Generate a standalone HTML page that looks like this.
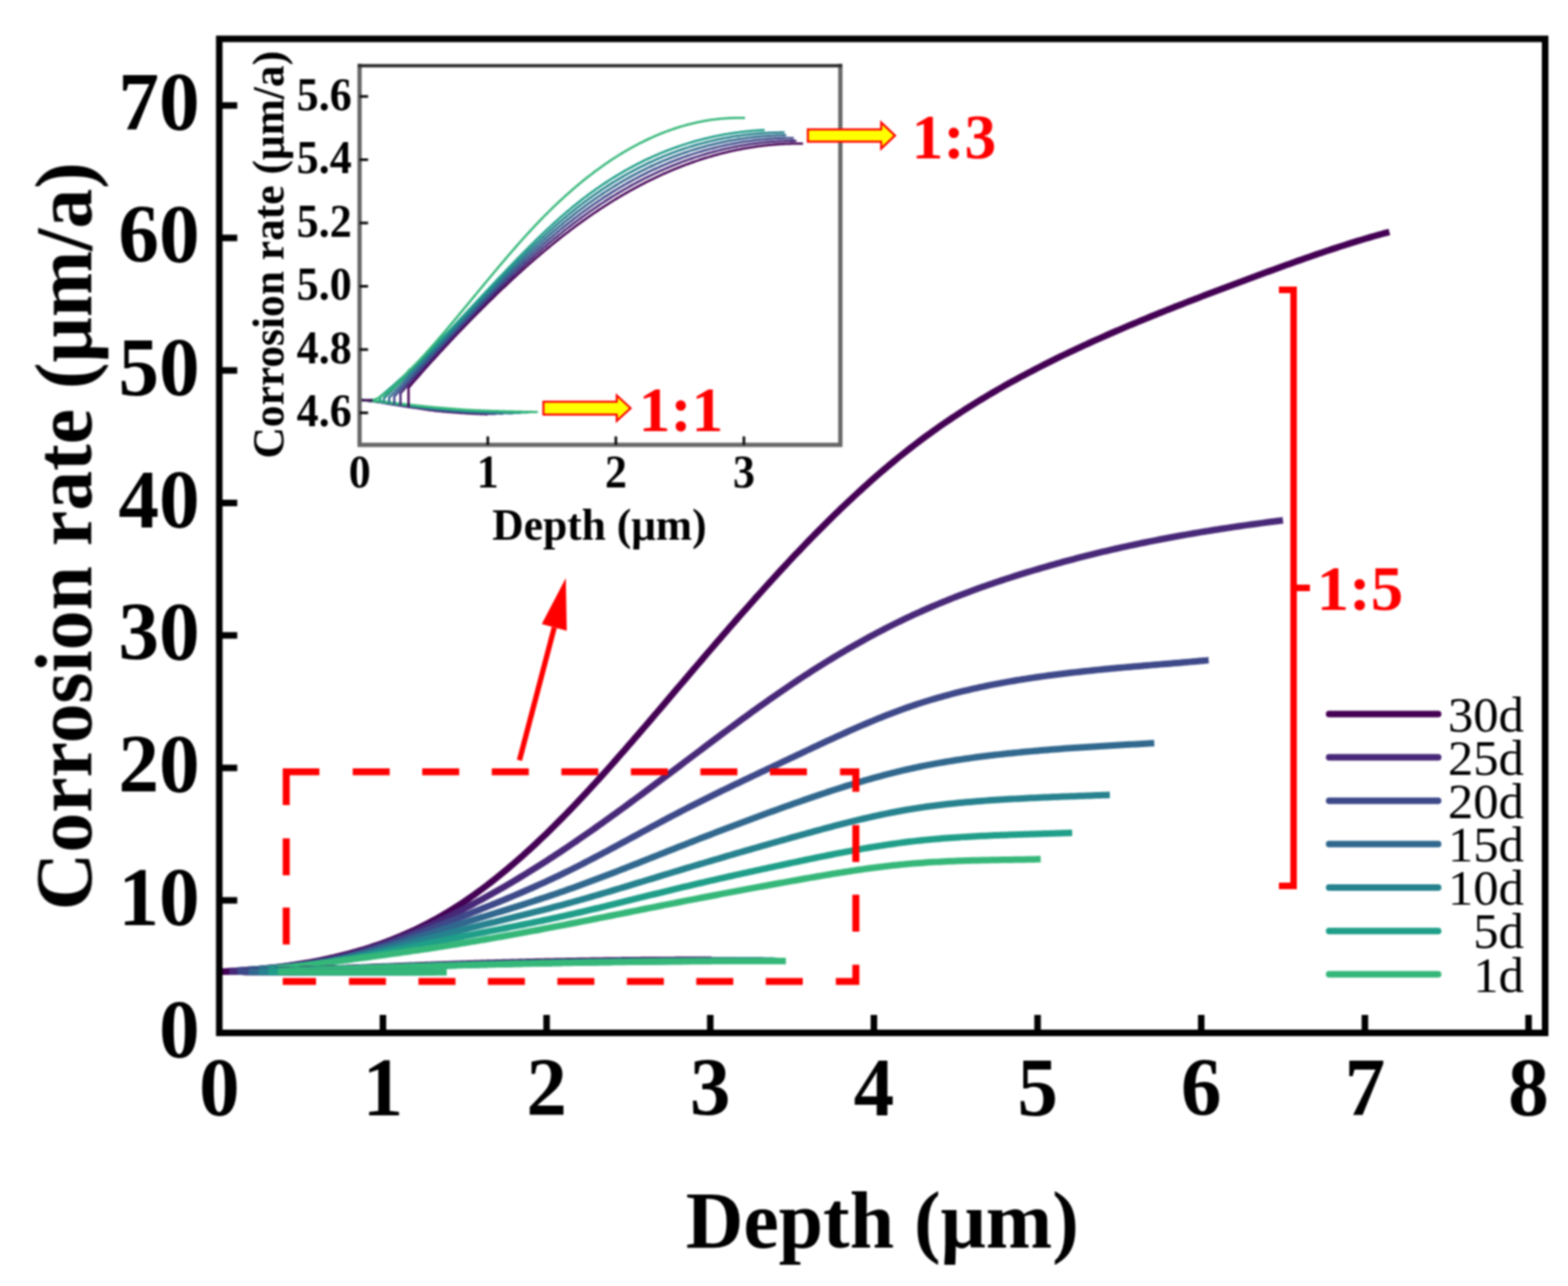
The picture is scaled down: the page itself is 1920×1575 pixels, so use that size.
<!DOCTYPE html>
<html lang="en"><head><meta charset="utf-8"><title>Corrosion rate vs depth</title>
<style>html,body{margin:0;padding:0;background:#fff}body{width:1920px;height:1575px;overflow:hidden}svg{display:block}text{font-family:'Liberation Serif', serif}.b{font-weight:bold}.tk{font-size:102px;font-weight:bold;fill:#000}.al{font-size:100px;font-weight:bold;fill:#000}.lg{font-size:62px;fill:#000}.itk{font-size:57px;font-weight:bold;fill:#000}.ial{font-size:54.5px;font-weight:bold;fill:#000}.rt{font-size:79px;font-weight:bold;fill:#f00}</style></head><body>
<svg width="1920" height="1575" viewBox="0 0 1920 1575">
<defs><filter id="soft" filterUnits="userSpaceOnUse" x="0" y="0" width="1920" height="1575" color-interpolation-filters="sRGB"><feGaussianBlur stdDeviation="0.8"/></filter><filter id="soft2" filterUnits="userSpaceOnUse" x="0" y="0" width="1920" height="1575" color-interpolation-filters="sRGB"><feGaussianBlur stdDeviation="0.7"/></filter></defs>
<rect x="0" y="0" width="1920" height="1575" fill="#ffffff"/>
<g filter="url(#soft)">
<g fill="none" stroke-width="8" stroke-linecap="butt" stroke-linejoin="round">
<polyline stroke="#440154" points="268.50,1190.20 272.51,1190.01 276.52,1189.81 280.52,1189.60 284.53,1189.37 288.54,1189.13 292.55,1188.87 296.56,1188.60 300.56,1188.31 304.57,1188.00 308.58,1187.68 312.59,1187.33 316.60,1186.97 320.60,1186.60 324.61,1186.20 328.62,1185.78 332.63,1185.34 336.64,1184.88 340.64,1184.41 344.65,1183.90 348.66,1183.38 352.67,1182.84 356.68,1182.27 360.68,1181.68 364.69,1181.06 368.70,1180.42 372.71,1179.76 376.72,1179.07 380.72,1178.35 384.73,1177.61 388.74,1176.84 392.75,1176.05 396.76,1175.23 400.76,1174.38 404.77,1173.50 408.78,1172.59 412.79,1171.65 416.80,1170.68 420.80,1169.68 424.81,1168.65 428.82,1167.58 432.83,1166.48 436.84,1165.35 440.84,1164.19 444.85,1162.98 448.86,1161.74 452.87,1160.47 456.88,1159.15 460.88,1157.80 464.89,1156.41 468.90,1154.97 472.91,1153.50 476.92,1151.98 480.92,1150.42 484.93,1148.82 488.94,1147.18 492.95,1145.48 496.96,1143.75 500.96,1141.96 504.97,1140.13 508.98,1138.26 512.99,1136.33 517.00,1134.35 521.00,1132.32 525.01,1130.25 529.02,1128.12 533.03,1125.93 537.04,1123.70 541.04,1121.41 545.05,1119.06 549.06,1116.66 553.07,1114.20 557.08,1111.69 561.08,1109.12 565.09,1106.50 569.10,1103.82 573.11,1101.09 577.12,1098.30 581.12,1095.47 585.13,1092.58 589.14,1089.63 593.15,1086.64 597.16,1083.60 601.16,1080.51 605.17,1077.36 609.18,1074.17 613.19,1070.93 617.20,1067.64 621.20,1064.31 625.21,1060.92 629.22,1057.50 633.23,1054.02 637.24,1050.50 641.24,1046.94 645.25,1043.33 649.26,1039.68 653.27,1035.98 657.28,1032.24 661.28,1028.46 665.29,1024.64 669.30,1020.78 673.31,1016.87 677.32,1012.93 681.32,1008.95 685.33,1004.92 689.34,1000.86 693.35,996.77 697.36,992.63 701.36,988.46 705.37,984.26 709.38,980.02 713.39,975.75 717.40,971.45 721.40,967.12 725.41,962.76 729.42,958.37 733.43,953.95 737.44,949.51 741.44,945.05 745.45,940.56 749.46,936.05 753.47,931.52 757.48,926.97 761.48,922.40 765.49,917.82 769.50,913.22 773.51,908.60 777.52,903.96 781.52,899.32 785.53,894.66 789.54,889.99 793.55,885.32 797.56,880.63 801.56,875.94 805.57,871.23 809.58,866.53 813.59,861.82 817.60,857.11 821.60,852.39 825.61,847.68 829.62,842.96 833.63,838.25 837.64,833.54 841.64,828.83 845.65,824.13 849.66,819.43 853.67,814.73 857.68,810.04 861.68,805.36 865.69,800.68 869.70,796.01 873.71,791.35 877.72,786.70 881.72,782.05 885.73,777.42 889.74,772.80 893.75,768.19 897.76,763.59 901.76,759.00 905.77,754.43 909.78,749.87 913.79,745.32 917.80,740.79 921.80,736.28 925.81,731.78 929.82,727.30 933.83,722.84 937.84,718.40 941.84,713.98 945.85,709.57 949.86,705.19 953.87,700.83 957.88,696.49 961.88,692.17 965.89,687.87 969.90,683.60 973.91,679.36 977.92,675.14 981.92,670.94 985.93,666.77 989.94,662.63 993.95,658.51 997.96,654.42 1001.96,650.35 1005.97,646.32 1009.98,642.31 1013.99,638.33 1018.00,634.38 1022.00,630.45 1026.01,626.56 1030.02,622.70 1034.03,618.87 1038.04,615.07 1042.04,611.30 1046.05,607.56 1050.06,603.85 1054.07,600.18 1058.08,596.54 1062.08,592.93 1066.09,589.36 1070.10,585.82 1074.11,582.31 1078.12,578.84 1082.12,575.40 1086.13,572.00 1090.14,568.64 1094.15,565.31 1098.16,562.02 1102.16,558.77 1106.17,555.55 1110.18,552.37 1114.19,549.23 1118.20,546.13 1122.20,543.06 1126.21,540.03 1130.22,537.04 1134.23,534.08 1138.24,531.16 1142.24,528.28 1146.25,525.42 1150.26,522.60 1154.27,519.81 1158.28,517.06 1162.28,514.33 1166.29,511.64 1170.30,508.98 1174.31,506.35 1178.32,503.75 1182.32,501.17 1186.33,498.63 1190.34,496.11 1194.35,493.62 1198.36,491.16 1202.36,488.72 1206.37,486.31 1210.38,483.92 1214.39,481.56 1218.40,479.22 1222.40,476.91 1226.41,474.61 1230.42,472.34 1234.43,470.10 1238.44,467.87 1242.44,465.66 1246.45,463.48 1250.46,461.31 1254.47,459.16 1258.48,457.03 1262.48,454.92 1266.49,452.83 1270.50,450.76 1274.51,448.70 1278.52,446.66 1282.52,444.63 1286.53,442.63 1290.54,440.64 1294.55,438.66 1298.56,436.70 1302.56,434.76 1306.57,432.83 1310.58,430.92 1314.59,429.02 1318.60,427.14 1322.60,425.27 1326.61,423.41 1330.62,421.57 1334.63,419.74 1338.64,417.92 1342.64,416.12 1346.65,414.32 1350.66,412.54 1354.67,410.77 1358.68,409.02 1362.68,407.27 1366.69,405.53 1370.70,403.81 1374.71,402.09 1378.72,400.39 1382.72,398.69 1386.73,397.01 1390.74,395.33 1394.75,393.66 1398.76,392.00 1402.76,390.35 1406.77,388.71 1410.78,387.07 1414.79,385.45 1418.80,383.83 1422.80,382.21 1426.81,380.61 1430.82,379.01 1434.83,377.42 1438.84,375.83 1442.84,374.25 1446.85,372.68 1450.86,371.12 1454.87,369.56 1458.88,368.00 1462.88,366.45 1466.89,364.91 1470.90,363.37 1474.91,361.83 1478.92,360.30 1482.92,358.78 1486.93,357.26 1490.94,355.74 1494.95,354.23 1498.96,352.72 1502.96,351.21 1506.97,349.71 1510.98,348.21 1514.99,346.71 1519.00,345.22 1523.00,343.73 1527.01,342.24 1531.02,340.75 1535.03,339.27 1539.04,337.78 1543.04,336.30 1547.05,334.83 1551.06,333.35 1555.07,331.88 1559.08,330.42 1563.08,328.95 1567.09,327.50 1571.10,326.05 1575.11,324.60 1579.12,323.16 1583.12,321.73 1587.13,320.30 1591.14,318.88 1595.15,317.47 1599.16,316.06 1603.16,314.67 1607.17,313.28 1611.18,311.90 1615.19,310.53 1619.20,309.17 1623.20,307.82 1627.21,306.48 1631.22,305.15 1635.23,303.83 1639.24,302.52 1643.24,301.23 1647.25,299.94 1651.26,298.67 1655.27,297.42 1659.28,296.17 1663.28,294.94 1667.29,293.72 1671.30,292.52 1675.31,291.33 1679.32,290.16 1683.32,289.00 1687.33,287.86 1691.34,286.74 1695.35,285.63 1699.36,284.54 1701.30,284.01"/>
<polyline stroke="#482878" points="280.52,1189.44 284.53,1189.18 288.54,1188.92 292.55,1188.65 296.56,1188.38 300.56,1188.10 304.57,1187.81 308.58,1187.51 312.59,1187.20 316.60,1186.88 320.60,1186.55 324.61,1186.20 328.62,1185.84 332.63,1185.46 336.64,1185.07 340.64,1184.66 344.65,1184.23 348.66,1183.78 352.67,1183.30 356.68,1182.81 360.68,1182.29 364.69,1181.75 368.70,1181.18 372.71,1180.59 376.72,1179.97 380.72,1179.32 384.73,1178.64 388.74,1177.93 392.75,1177.19 396.76,1176.41 400.76,1175.60 404.77,1174.76 408.78,1173.88 412.79,1172.96 416.80,1172.01 420.80,1171.02 424.81,1169.99 428.82,1168.93 432.83,1167.84 436.84,1166.71 440.84,1165.54 444.85,1164.34 448.86,1163.11 452.87,1161.84 456.88,1160.55 460.88,1159.22 464.89,1157.85 468.90,1156.46 472.91,1155.03 476.92,1153.58 480.92,1152.09 484.93,1150.58 488.94,1149.03 492.95,1147.46 496.96,1145.85 500.96,1144.22 504.97,1142.56 508.98,1140.87 512.99,1139.16 517.00,1137.42 521.00,1135.65 525.01,1133.86 529.02,1132.04 533.03,1130.19 537.04,1128.33 541.04,1126.43 545.05,1124.52 549.06,1122.57 553.07,1120.61 557.08,1118.62 561.08,1116.62 565.09,1114.58 569.10,1112.53 573.11,1110.45 577.12,1108.35 581.12,1106.23 585.13,1104.09 589.14,1101.92 593.15,1099.74 597.16,1097.53 601.16,1095.30 605.17,1093.05 609.18,1090.77 613.19,1088.48 617.20,1086.17 621.20,1083.83 625.21,1081.48 629.22,1079.10 633.23,1076.71 637.24,1074.29 641.24,1071.86 645.25,1069.40 649.26,1066.93 653.27,1064.44 657.28,1061.92 661.28,1059.39 665.29,1056.84 669.30,1054.27 673.31,1051.68 677.32,1049.07 681.32,1046.45 685.33,1043.80 689.34,1041.14 693.35,1038.46 697.36,1035.77 701.36,1033.05 705.37,1030.32 709.38,1027.57 713.39,1024.81 717.40,1022.03 721.40,1019.24 725.41,1016.43 729.42,1013.61 733.43,1010.78 737.44,1007.93 741.44,1005.07 745.45,1002.20 749.46,999.32 753.47,996.42 757.48,993.52 761.48,990.61 765.49,987.68 769.50,984.75 773.51,981.81 777.52,978.86 781.52,975.90 785.53,972.93 789.54,969.96 793.55,966.98 797.56,964.00 801.56,961.00 805.57,958.01 809.58,955.01 813.59,952.00 817.60,949.00 821.60,945.99 825.61,942.97 829.62,939.96 833.63,936.94 837.64,933.92 841.64,930.90 845.65,927.88 849.66,924.86 853.67,921.84 857.68,918.83 861.68,915.81 865.69,912.80 869.70,909.80 873.71,906.80 877.72,903.80 881.72,900.81 885.73,897.82 889.74,894.85 893.75,891.88 897.76,888.92 901.76,885.96 905.77,883.02 909.78,880.09 913.79,877.17 917.80,874.26 921.80,871.36 925.81,868.48 929.82,865.60 933.83,862.75 937.84,859.90 941.84,857.08 945.85,854.27 949.86,851.47 953.87,848.69 957.88,845.93 961.88,843.19 965.89,840.47 969.90,837.77 973.91,835.09 977.92,832.42 981.92,829.78 985.93,827.16 989.94,824.56 993.95,821.99 997.96,819.43 1001.96,816.89 1005.97,814.38 1009.98,811.89 1013.99,809.42 1018.00,806.97 1022.00,804.54 1026.01,802.14 1030.02,799.75 1034.03,797.39 1038.04,795.05 1042.04,792.74 1046.05,790.45 1050.06,788.18 1054.07,785.93 1058.08,783.70 1062.08,781.50 1066.09,779.33 1070.10,777.17 1074.11,775.04 1078.12,772.94 1082.12,770.85 1086.13,768.79 1090.14,766.76 1094.15,764.75 1098.16,762.76 1102.16,760.80 1106.17,758.86 1110.18,756.95 1114.19,755.06 1118.20,753.20 1122.20,751.36 1126.21,749.54 1130.22,747.75 1134.23,745.98 1138.24,744.24 1142.24,742.51 1146.25,740.81 1150.26,739.13 1154.27,737.47 1158.28,735.84 1162.28,734.22 1166.29,732.62 1170.30,731.04 1174.31,729.49 1178.32,727.95 1182.32,726.43 1186.33,724.93 1190.34,723.45 1194.35,721.98 1198.36,720.53 1202.36,719.10 1206.37,717.69 1210.38,716.29 1214.39,714.91 1218.40,713.55 1222.40,712.20 1226.41,710.86 1230.42,709.54 1234.43,708.23 1238.44,706.94 1242.44,705.66 1246.45,704.40 1250.46,703.14 1254.47,701.90 1258.48,700.68 1262.48,699.46 1266.49,698.26 1270.50,697.07 1274.51,695.89 1278.52,694.72 1282.52,693.57 1286.53,692.43 1290.54,691.30 1294.55,690.18 1298.56,689.07 1302.56,687.97 1306.57,686.89 1310.58,685.82 1314.59,684.76 1318.60,683.71 1322.60,682.67 1326.61,681.65 1330.62,680.63 1334.63,679.63 1338.64,678.64 1342.64,677.65 1346.65,676.68 1350.66,675.72 1354.67,674.78 1358.68,673.84 1362.68,672.91 1366.69,672.00 1370.70,671.09 1374.71,670.19 1378.72,669.31 1382.72,668.44 1386.73,667.57 1390.74,666.72 1394.75,665.88 1398.76,665.04 1402.76,664.22 1406.77,663.41 1410.78,662.60 1414.79,661.81 1418.80,661.03 1422.80,660.25 1426.81,659.49 1430.82,658.73 1434.83,657.98 1438.84,657.25 1442.84,656.52 1446.85,655.80 1450.86,655.09 1454.87,654.38 1458.88,653.69 1462.88,653.00 1466.89,652.33 1470.90,651.66 1474.91,651.00 1478.92,650.34 1482.92,649.70 1486.93,649.06 1490.94,648.43 1494.95,647.81 1498.96,647.20 1502.96,646.59 1506.97,645.99 1510.98,645.40 1514.99,644.81 1519.00,644.23 1523.00,643.66 1527.01,643.09 1531.02,642.54 1535.03,641.98 1539.04,641.44 1543.04,640.90 1547.05,640.36 1551.06,639.84 1555.07,639.32 1559.08,638.80 1563.08,638.29 1567.09,637.79 1571.00,637.30"/>
<polyline stroke="#3e4989" points="290.54,1188.67 294.55,1188.40 298.56,1188.13 302.57,1187.87 306.58,1187.59 310.58,1187.32 314.59,1187.03 318.60,1186.74 322.61,1186.44 326.62,1186.14 330.62,1185.82 334.63,1185.48 338.64,1185.14 342.65,1184.77 346.66,1184.39 350.66,1183.99 354.67,1183.58 358.68,1183.14 362.69,1182.67 366.70,1182.19 370.70,1181.68 374.71,1181.14 378.72,1180.57 382.73,1179.97 386.74,1179.34 390.74,1178.68 394.75,1177.99 398.76,1177.26 402.77,1176.49 406.78,1175.68 410.78,1174.84 414.79,1173.95 418.80,1173.03 422.81,1172.07 426.82,1171.07 430.82,1170.04 434.83,1168.97 438.84,1167.87 442.85,1166.74 446.86,1165.58 450.86,1164.39 454.87,1163.17 458.88,1161.92 462.89,1160.65 466.90,1159.35 470.90,1158.03 474.91,1156.68 478.92,1155.32 482.93,1153.93 486.94,1152.52 490.94,1151.10 494.95,1149.66 498.96,1148.20 502.97,1146.73 506.98,1145.24 510.98,1143.74 514.99,1142.23 519.00,1140.71 523.01,1139.18 527.02,1137.65 531.02,1136.10 535.03,1134.56 539.04,1133.00 543.05,1131.44 547.06,1129.88 551.06,1128.32 555.07,1126.76 559.08,1125.20 563.09,1123.64 567.10,1122.07 571.10,1120.50 575.11,1118.92 579.12,1117.34 583.13,1115.76 587.14,1114.17 591.14,1112.57 595.15,1110.97 599.16,1109.36 603.17,1107.74 607.18,1106.12 611.18,1104.48 615.19,1102.84 619.20,1101.18 623.21,1099.52 627.22,1097.84 631.22,1096.15 635.23,1094.45 639.24,1092.73 643.25,1091.00 647.26,1089.26 651.26,1087.50 655.27,1085.72 659.28,1083.93 663.29,1082.12 667.30,1080.30 671.30,1078.45 675.31,1076.59 679.32,1074.71 683.33,1072.81 687.34,1070.89 691.34,1068.95 695.35,1066.98 699.36,1065.00 703.37,1063.00 707.38,1060.98 711.38,1058.94 715.39,1056.89 719.40,1054.82 723.41,1052.74 727.42,1050.65 731.42,1048.54 735.43,1046.42 739.44,1044.29 743.45,1042.16 747.46,1040.01 751.46,1037.86 755.47,1035.70 759.48,1033.54 763.49,1031.37 767.50,1029.20 771.50,1027.03 775.51,1024.86 779.52,1022.68 783.53,1020.51 787.54,1018.34 791.54,1016.17 795.55,1014.01 799.56,1011.85 803.57,1009.69 807.58,1007.54 811.58,1005.40 815.59,1003.27 819.60,1001.15 823.61,999.04 827.62,996.94 831.62,994.85 835.63,992.77 839.64,990.71 843.65,988.66 847.66,986.62 851.66,984.59 855.67,982.58 859.68,980.57 863.69,978.57 867.70,976.58 871.70,974.60 875.71,972.63 879.72,970.67 883.73,968.72 887.74,966.77 891.74,964.83 895.75,962.89 899.76,960.97 903.77,959.04 907.78,957.13 911.78,955.21 915.79,953.31 919.80,951.40 923.81,949.50 927.82,947.60 931.82,945.71 935.83,943.82 939.84,941.93 943.85,940.04 947.86,938.15 951.86,936.26 955.87,934.37 959.88,932.49 963.89,930.60 967.90,928.71 971.90,926.82 975.91,924.92 979.92,923.03 983.93,921.14 987.94,919.25 991.94,917.36 995.95,915.47 999.96,913.59 1003.97,911.72 1007.98,909.85 1011.98,907.98 1015.99,906.13 1020.00,904.28 1024.01,902.44 1028.02,900.61 1032.02,898.79 1036.03,896.99 1040.04,895.19 1044.05,893.41 1048.06,891.65 1052.06,889.90 1056.07,888.17 1060.08,886.45 1064.09,884.76 1068.10,883.08 1072.10,881.42 1076.11,879.78 1080.12,878.17 1084.13,876.57 1088.14,875.00 1092.14,873.46 1096.15,871.94 1100.16,870.44 1104.17,868.97 1108.18,867.54 1112.18,866.12 1116.19,864.74 1120.20,863.39 1124.21,862.06 1128.22,860.77 1132.22,859.50 1136.23,858.25 1140.24,857.04 1144.25,855.84 1148.26,854.68 1152.26,853.54 1156.27,852.42 1160.28,851.33 1164.29,850.26 1168.30,849.22 1172.30,848.20 1176.31,847.20 1180.32,846.23 1184.33,845.27 1188.34,844.34 1192.34,843.43 1196.35,842.54 1200.36,841.67 1204.37,840.82 1208.38,839.98 1212.38,839.17 1216.39,838.38 1220.40,837.60 1224.41,836.84 1228.42,836.10 1232.42,835.37 1236.43,834.67 1240.44,833.97 1244.45,833.30 1248.46,832.63 1252.46,831.99 1256.47,831.35 1260.48,830.74 1264.49,830.13 1268.50,829.54 1272.50,828.96 1276.51,828.39 1280.52,827.84 1284.53,827.30 1288.54,826.77 1292.54,826.25 1296.55,825.74 1300.56,825.24 1304.57,824.75 1308.58,824.28 1312.58,823.81 1316.59,823.35 1320.60,822.90 1324.61,822.46 1328.62,822.03 1332.62,821.61 1336.63,821.19 1340.64,820.78 1344.65,820.38 1348.66,819.98 1352.66,819.59 1356.67,819.21 1360.68,818.83 1364.69,818.46 1368.70,818.10 1372.70,817.73 1376.71,817.38 1380.72,817.02 1384.73,816.67 1388.74,816.32 1392.74,815.98 1396.75,815.64 1400.76,815.30 1404.77,814.96 1408.78,814.63 1412.78,814.30 1416.79,813.96 1420.80,813.63 1424.81,813.30 1428.82,812.97 1432.82,812.64 1436.83,812.31 1440.84,811.97 1444.85,811.64 1448.86,811.30 1452.86,810.96 1456.87,810.62 1460.88,810.28 1464.89,809.93 1468.90,809.58 1472.90,809.23 1476.91,808.88 1480.00,808.60"/>
<polyline stroke="#31688e" points="304.57,1187.97 308.58,1187.70 312.59,1187.44 316.60,1187.16 320.60,1186.87 324.61,1186.58 328.62,1186.27 332.63,1185.95 336.64,1185.62 340.64,1185.28 344.65,1184.91 348.66,1184.54 352.67,1184.14 356.68,1183.72 360.68,1183.29 364.69,1182.83 368.70,1182.35 372.71,1181.85 376.72,1181.33 380.72,1180.77 384.73,1180.20 388.74,1179.59 392.75,1178.95 396.76,1178.29 400.76,1177.59 404.77,1176.86 408.78,1176.10 412.79,1175.30 416.80,1174.47 420.80,1173.61 424.81,1172.72 428.82,1171.80 432.83,1170.85 436.84,1169.87 440.84,1168.86 444.85,1167.83 448.86,1166.78 452.87,1165.70 456.88,1164.61 460.88,1163.49 464.89,1162.35 468.90,1161.20 472.91,1160.02 476.92,1158.83 480.92,1157.63 484.93,1156.42 488.94,1155.19 492.95,1153.95 496.96,1152.70 500.96,1151.44 504.97,1150.18 508.98,1148.91 512.99,1147.63 517.00,1146.35 521.00,1145.07 525.01,1143.78 529.02,1142.50 533.03,1141.22 537.04,1139.93 541.04,1138.66 545.05,1137.38 549.06,1136.11 553.07,1134.85 557.08,1133.59 561.08,1132.34 565.09,1131.09 569.10,1129.85 573.11,1128.61 577.12,1127.38 581.12,1126.15 585.13,1124.92 589.14,1123.69 593.15,1122.46 597.16,1121.23 601.16,1120.00 605.17,1118.77 609.18,1117.54 613.19,1116.31 617.20,1115.07 621.20,1113.83 625.21,1112.59 629.22,1111.34 633.23,1110.08 637.24,1108.82 641.24,1107.56 645.25,1106.29 649.26,1105.01 653.27,1103.72 657.28,1102.42 661.28,1101.12 665.29,1099.80 669.30,1098.48 673.31,1097.14 677.32,1095.79 681.32,1094.43 685.33,1093.06 689.34,1091.67 693.35,1090.27 697.36,1088.85 701.36,1087.43 705.37,1085.99 709.38,1084.54 713.39,1083.07 717.40,1081.60 721.40,1080.11 725.41,1078.62 729.42,1077.11 733.43,1075.60 737.44,1074.08 741.44,1072.55 745.45,1071.01 749.46,1069.47 753.47,1067.92 757.48,1066.36 761.48,1064.79 765.49,1063.23 769.50,1061.65 773.51,1060.08 777.52,1058.50 781.52,1056.91 785.53,1055.32 789.54,1053.74 793.55,1052.14 797.56,1050.55 801.56,1048.96 805.57,1047.37 809.58,1045.77 813.59,1044.18 817.60,1042.59 821.60,1041.00 825.61,1039.41 829.62,1037.83 833.63,1036.25 837.64,1034.67 841.64,1033.10 845.65,1031.53 849.66,1029.96 853.67,1028.39 857.68,1026.83 861.68,1025.28 865.69,1023.72 869.70,1022.17 873.71,1020.63 877.72,1019.09 881.72,1017.55 885.73,1016.02 889.74,1014.49 893.75,1012.97 897.76,1011.45 901.76,1009.94 905.77,1008.43 909.78,1006.92 913.79,1005.42 917.80,1003.93 921.80,1002.44 925.81,1000.96 929.82,999.48 933.83,998.00 937.84,996.54 941.84,995.07 945.85,993.62 949.86,992.17 953.87,990.72 957.88,989.28 961.88,987.85 965.89,986.42 969.90,985.00 973.91,983.59 977.92,982.18 981.92,980.78 985.93,979.39 989.94,978.00 993.95,976.62 997.96,975.26 1001.96,973.90 1005.97,972.55 1009.98,971.21 1013.99,969.89 1018.00,968.57 1022.00,967.27 1026.01,965.98 1030.02,964.70 1034.03,963.44 1038.04,962.18 1042.04,960.95 1046.05,959.72 1050.06,958.52 1054.07,957.32 1058.08,956.15 1062.08,954.99 1066.09,953.84 1070.10,952.72 1074.11,951.61 1078.12,950.52 1082.12,949.45 1086.13,948.40 1090.14,947.37 1094.15,946.35 1098.16,945.36 1102.16,944.39 1106.17,943.44 1110.18,942.51 1114.19,941.61 1118.20,940.73 1122.20,939.86 1126.21,939.02 1130.22,938.20 1134.23,937.40 1138.24,936.63 1142.24,935.87 1146.25,935.12 1150.26,934.40 1154.27,933.70 1158.28,933.01 1162.28,932.34 1166.29,931.69 1170.30,931.06 1174.31,930.44 1178.32,929.84 1182.32,929.25 1186.33,928.68 1190.34,928.12 1194.35,927.58 1198.36,927.05 1202.36,926.53 1206.37,926.03 1210.38,925.54 1214.39,925.06 1218.40,924.59 1222.40,924.14 1226.41,923.69 1230.42,923.26 1234.43,922.83 1238.44,922.42 1242.44,922.01 1246.45,921.62 1250.46,921.23 1254.47,920.85 1258.48,920.48 1262.48,920.12 1266.49,919.76 1270.50,919.41 1274.51,919.07 1278.52,918.74 1282.52,918.41 1286.53,918.09 1290.54,917.77 1294.55,917.46 1298.56,917.16 1302.56,916.86 1306.57,916.57 1310.58,916.28 1314.59,916.00 1318.60,915.73 1322.60,915.46 1326.61,915.19 1330.62,914.93 1334.63,914.67 1338.64,914.42 1342.64,914.17 1346.65,913.92 1350.66,913.68 1354.67,913.44 1358.68,913.21 1362.68,912.97 1366.69,912.74 1370.70,912.52 1374.71,912.29 1378.72,912.07 1382.72,911.85 1386.73,911.63 1390.74,911.41 1394.75,911.19 1398.76,910.98 1402.76,910.76 1406.77,910.55 1410.78,910.34 1413.40,910.20"/>
<polyline stroke="#26828e" points="316.60,1187.49 320.60,1187.21 324.61,1186.91 328.62,1186.60 332.63,1186.27 336.64,1185.93 340.64,1185.58 344.65,1185.21 348.66,1184.82 352.67,1184.42 356.68,1184.01 360.68,1183.57 364.69,1183.12 368.70,1182.65 372.71,1182.15 376.72,1181.64 380.72,1181.11 384.73,1180.56 388.74,1179.98 392.75,1179.39 396.76,1178.77 400.76,1178.12 404.77,1177.46 408.78,1176.76 412.79,1176.05 416.80,1175.30 420.80,1174.54 424.81,1173.75 428.82,1172.94 432.83,1172.11 436.84,1171.26 440.84,1170.39 444.85,1169.51 448.86,1168.60 452.87,1167.68 456.88,1166.75 460.88,1165.80 464.89,1164.84 468.90,1163.86 472.91,1162.88 476.92,1161.88 480.92,1160.87 484.93,1159.86 488.94,1158.83 492.95,1157.80 496.96,1156.77 500.96,1155.73 504.97,1154.68 508.98,1153.63 512.99,1152.58 517.00,1151.53 521.00,1150.48 525.01,1149.43 529.02,1148.38 533.03,1147.33 537.04,1146.28 541.04,1145.24 545.05,1144.21 549.06,1143.18 553.07,1142.16 557.08,1141.14 561.08,1140.13 565.09,1139.13 569.10,1138.13 573.11,1137.13 577.12,1136.14 581.12,1135.15 585.13,1134.17 589.14,1133.19 593.15,1132.21 597.16,1131.23 601.16,1130.25 605.17,1129.27 609.18,1128.30 613.19,1127.32 617.20,1126.34 621.20,1125.36 625.21,1124.38 629.22,1123.40 633.23,1122.41 637.24,1121.42 641.24,1120.43 645.25,1119.43 649.26,1118.43 653.27,1117.42 657.28,1116.41 661.28,1115.39 665.29,1114.36 669.30,1113.33 673.31,1112.29 677.32,1111.24 681.32,1110.18 685.33,1109.11 689.34,1108.03 693.35,1106.95 697.36,1105.85 701.36,1104.74 705.37,1103.63 709.38,1102.50 713.39,1101.37 717.40,1100.23 721.40,1099.08 725.41,1097.92 729.42,1096.76 733.43,1095.59 737.44,1094.42 741.44,1093.24 745.45,1092.05 749.46,1090.86 753.47,1089.66 757.48,1088.46 761.48,1087.26 765.49,1086.05 769.50,1084.84 773.51,1083.63 777.52,1082.41 781.52,1081.19 785.53,1079.98 789.54,1078.75 793.55,1077.53 797.56,1076.31 801.56,1075.09 805.57,1073.87 809.58,1072.65 813.59,1071.43 817.60,1070.21 821.60,1068.99 825.61,1067.77 829.62,1066.56 833.63,1065.35 837.64,1064.14 841.64,1062.94 845.65,1061.74 849.66,1060.54 853.67,1059.34 857.68,1058.15 861.68,1056.96 865.69,1055.77 869.70,1054.58 873.71,1053.40 877.72,1052.22 881.72,1051.04 885.73,1049.86 889.74,1048.69 893.75,1047.52 897.76,1046.35 901.76,1045.19 905.77,1044.02 909.78,1042.86 913.79,1041.70 917.80,1040.55 921.80,1039.39 925.81,1038.24 929.82,1037.09 933.83,1035.95 937.84,1034.80 941.84,1033.66 945.85,1032.52 949.86,1031.38 953.87,1030.25 957.88,1029.11 961.88,1027.98 965.89,1026.85 969.90,1025.72 973.91,1024.60 977.92,1023.48 981.92,1022.36 985.93,1021.24 989.94,1020.13 993.95,1019.02 997.96,1017.92 1001.96,1016.83 1005.97,1015.74 1009.98,1014.66 1013.99,1013.59 1018.00,1012.53 1022.00,1011.47 1026.01,1010.43 1030.02,1009.40 1034.03,1008.37 1038.04,1007.36 1042.04,1006.36 1046.05,1005.38 1050.06,1004.40 1054.07,1003.44 1058.08,1002.50 1062.08,1001.57 1066.09,1000.66 1070.10,999.76 1074.11,998.88 1078.12,998.01 1082.12,997.17 1086.13,996.34 1090.14,995.54 1094.15,994.75 1098.16,993.98 1102.16,993.24 1106.17,992.51 1110.18,991.81 1114.19,991.13 1118.20,990.48 1122.20,989.84 1126.21,989.23 1130.22,988.63 1134.23,988.06 1138.24,987.51 1142.24,986.97 1146.25,986.46 1150.26,985.96 1154.27,985.48 1158.28,985.02 1162.28,984.58 1166.29,984.15 1170.30,983.74 1174.31,983.34 1178.32,982.95 1182.32,982.58 1186.33,982.23 1190.34,981.89 1194.35,981.56 1198.36,981.24 1202.36,980.93 1206.37,980.63 1210.38,980.35 1214.39,980.07 1218.40,979.81 1222.40,979.55 1226.41,979.30 1230.42,979.06 1234.43,978.83 1238.44,978.60 1242.44,978.38 1246.45,978.17 1250.46,977.96 1254.47,977.76 1258.48,977.56 1262.48,977.36 1266.49,977.17 1270.50,976.99 1274.51,976.80 1278.52,976.62 1282.52,976.45 1286.53,976.28 1290.54,976.11 1294.55,975.94 1298.56,975.78 1302.56,975.62 1306.57,975.46 1310.58,975.30 1314.59,975.15 1318.60,974.99 1322.60,974.84 1326.61,974.69 1330.62,974.54 1334.63,974.39 1338.64,974.25 1342.64,974.10 1346.65,973.95 1350.66,973.81 1354.67,973.66 1358.68,973.51 1359.00,973.50"/>
<polyline stroke="#1f9e89" points="328.62,1186.84 332.63,1186.50 336.64,1186.16 340.64,1185.80 344.65,1185.42 348.66,1185.03 352.67,1184.63 356.68,1184.21 360.68,1183.78 364.69,1183.33 368.70,1182.87 372.71,1182.39 376.72,1181.90 380.72,1181.40 384.73,1180.88 388.74,1180.34 392.75,1179.79 396.76,1179.23 400.76,1178.65 404.77,1178.05 408.78,1177.44 412.79,1176.81 416.80,1176.17 420.80,1175.52 424.81,1174.85 428.82,1174.17 432.83,1173.47 436.84,1172.77 440.84,1172.05 444.85,1171.32 448.86,1170.59 452.87,1169.84 456.88,1169.08 460.88,1168.32 464.89,1167.54 468.90,1166.76 472.91,1165.97 476.92,1165.18 480.92,1164.38 484.93,1163.57 488.94,1162.76 492.95,1161.95 496.96,1161.13 500.96,1160.31 504.97,1159.49 508.98,1158.67 512.99,1157.84 517.00,1157.02 521.00,1156.19 525.01,1155.36 529.02,1154.54 533.03,1153.72 537.04,1152.89 541.04,1152.08 545.05,1151.26 549.06,1150.45 553.07,1149.64 557.08,1148.84 561.08,1148.04 565.09,1147.24 569.10,1146.45 573.11,1145.66 577.12,1144.87 581.12,1144.08 585.13,1143.30 589.14,1142.51 593.15,1141.73 597.16,1140.94 601.16,1140.16 605.17,1139.37 609.18,1138.59 613.19,1137.80 617.20,1137.01 621.20,1136.22 625.21,1135.42 629.22,1134.63 633.23,1133.83 637.24,1133.02 641.24,1132.21 645.25,1131.40 649.26,1130.58 653.27,1129.76 657.28,1128.93 661.28,1128.10 665.29,1127.26 669.30,1126.41 673.31,1125.56 677.32,1124.69 681.32,1123.82 685.33,1122.95 689.34,1122.06 693.35,1121.16 697.36,1120.26 701.36,1119.35 705.37,1118.43 709.38,1117.50 713.39,1116.56 717.40,1115.62 721.40,1114.67 725.41,1113.72 729.42,1112.76 733.43,1111.79 737.44,1110.82 741.44,1109.85 745.45,1108.87 749.46,1107.89 753.47,1106.91 757.48,1105.92 761.48,1104.93 765.49,1103.94 769.50,1102.95 773.51,1101.95 777.52,1100.96 781.52,1099.96 785.53,1098.97 789.54,1097.97 793.55,1096.98 797.56,1095.99 801.56,1095.00 805.57,1094.01 809.58,1093.02 813.59,1092.04 817.60,1091.06 821.60,1090.08 825.61,1089.11 829.62,1088.14 833.63,1087.18 837.64,1086.22 841.64,1085.27 845.65,1084.32 849.66,1083.38 853.67,1082.44 857.68,1081.50 861.68,1080.57 865.69,1079.64 869.70,1078.72 873.71,1077.80 877.72,1076.88 881.72,1075.97 885.73,1075.06 889.74,1074.16 893.75,1073.26 897.76,1072.36 901.76,1071.46 905.77,1070.57 909.78,1069.68 913.79,1068.80 917.80,1067.92 921.80,1067.04 925.81,1066.16 929.82,1065.29 933.83,1064.41 937.84,1063.55 941.84,1062.68 945.85,1061.81 949.86,1060.95 953.87,1060.09 957.88,1059.23 961.88,1058.38 965.89,1057.52 969.90,1056.67 973.91,1055.82 977.92,1054.97 981.92,1054.12 985.93,1053.28 989.94,1052.44 993.95,1051.61 997.96,1050.78 1001.96,1049.95 1005.97,1049.13 1009.98,1048.31 1013.99,1047.51 1018.00,1046.71 1022.00,1045.91 1026.01,1045.13 1030.02,1044.35 1034.03,1043.58 1038.04,1042.82 1042.04,1042.07 1046.05,1041.33 1050.06,1040.61 1054.07,1039.89 1058.08,1039.18 1062.08,1038.49 1066.09,1037.81 1070.10,1037.14 1074.11,1036.49 1078.12,1035.85 1082.12,1035.23 1086.13,1034.62 1090.14,1034.02 1094.15,1033.45 1098.16,1032.89 1102.16,1032.34 1106.17,1031.82 1110.18,1031.31 1114.19,1030.82 1118.20,1030.35 1122.20,1029.89 1126.21,1029.46 1130.22,1029.04 1134.23,1028.63 1138.24,1028.24 1142.24,1027.87 1146.25,1027.51 1150.26,1027.17 1154.27,1026.84 1158.28,1026.53 1162.28,1026.22 1166.29,1025.93 1170.30,1025.65 1174.31,1025.39 1178.32,1025.13 1182.32,1024.89 1186.33,1024.66 1190.34,1024.43 1194.35,1024.22 1198.36,1024.01 1202.36,1023.82 1206.37,1023.63 1210.38,1023.45 1214.39,1023.27 1218.40,1023.10 1222.40,1022.94 1226.41,1022.79 1230.42,1022.64 1234.43,1022.49 1238.44,1022.35 1242.44,1022.22 1246.45,1022.08 1250.46,1021.96 1254.47,1021.83 1258.48,1021.70 1262.48,1021.58 1266.49,1021.46 1270.50,1021.34 1274.51,1021.22 1278.52,1021.10 1282.52,1020.98 1286.53,1020.85 1290.54,1020.73 1294.55,1020.61 1298.56,1020.48 1302.56,1020.35 1306.57,1020.21 1310.58,1020.08 1312.80,1020.00"/>
<polyline stroke="#35b779" points="340.64,1186.07 344.65,1185.66 348.66,1185.24 352.67,1184.80 356.68,1184.36 360.68,1183.90 364.69,1183.43 368.70,1182.95 372.71,1182.47 376.72,1181.97 380.72,1181.47 384.73,1180.97 388.74,1180.45 392.75,1179.94 396.76,1179.42 400.76,1178.89 404.77,1178.36 408.78,1177.84 412.79,1177.31 416.80,1176.78 420.80,1176.25 424.81,1175.71 428.82,1175.18 432.83,1174.65 436.84,1174.11 440.84,1173.57 444.85,1173.03 448.86,1172.49 452.87,1171.95 456.88,1171.40 460.88,1170.86 464.89,1170.31 468.90,1169.75 472.91,1169.20 476.92,1168.64 480.92,1168.08 484.93,1167.52 488.94,1166.95 492.95,1166.38 496.96,1165.81 500.96,1165.23 504.97,1164.65 508.98,1164.06 512.99,1163.47 517.00,1162.88 521.00,1162.28 525.01,1161.68 529.02,1161.08 533.03,1160.47 537.04,1159.85 541.04,1159.23 545.05,1158.60 549.06,1157.97 553.07,1157.34 557.08,1156.70 561.08,1156.05 565.09,1155.40 569.10,1154.75 573.11,1154.08 577.12,1153.42 581.12,1152.75 585.13,1152.07 589.14,1151.39 593.15,1150.71 597.16,1150.02 601.16,1149.33 605.17,1148.63 609.18,1147.93 613.19,1147.22 617.20,1146.51 621.20,1145.80 625.21,1145.08 629.22,1144.36 633.23,1143.63 637.24,1142.90 641.24,1142.17 645.25,1141.43 649.26,1140.69 653.27,1139.94 657.28,1139.20 661.28,1138.45 665.29,1137.69 669.30,1136.93 673.31,1136.17 677.32,1135.41 681.32,1134.64 685.33,1133.87 689.34,1133.10 693.35,1132.32 697.36,1131.54 701.36,1130.76 705.37,1129.98 709.38,1129.19 713.39,1128.41 717.40,1127.62 721.40,1126.82 725.41,1126.03 729.42,1125.24 733.43,1124.44 737.44,1123.64 741.44,1122.84 745.45,1122.04 749.46,1121.24 753.47,1120.44 757.48,1119.64 761.48,1118.84 765.49,1118.03 769.50,1117.23 773.51,1116.43 777.52,1115.63 781.52,1114.82 785.53,1114.02 789.54,1113.22 793.55,1112.42 797.56,1111.62 801.56,1110.82 805.57,1110.02 809.58,1109.22 813.59,1108.43 817.60,1107.63 821.60,1106.84 825.61,1106.05 829.62,1105.26 833.63,1104.47 837.64,1103.69 841.64,1102.91 845.65,1102.13 849.66,1101.35 853.67,1100.57 857.68,1099.80 861.68,1099.02 865.69,1098.25 869.70,1097.48 873.71,1096.72 877.72,1095.95 881.72,1095.19 885.73,1094.43 889.74,1093.67 893.75,1092.92 897.76,1092.16 901.76,1091.41 905.77,1090.66 909.78,1089.91 913.79,1089.16 917.80,1088.42 921.80,1087.67 925.81,1086.93 929.82,1086.19 933.83,1085.46 937.84,1084.72 941.84,1083.99 945.85,1083.26 949.86,1082.53 953.87,1081.80 957.88,1081.07 961.88,1080.35 965.89,1079.63 969.90,1078.91 973.91,1078.19 977.92,1077.47 981.92,1076.76 985.93,1076.05 989.94,1075.34 993.95,1074.64 997.96,1073.95 1001.96,1073.25 1005.97,1072.57 1009.98,1071.89 1013.99,1071.21 1018.00,1070.55 1022.00,1069.89 1026.01,1069.24 1030.02,1068.60 1034.03,1067.96 1038.04,1067.34 1042.04,1066.72 1046.05,1066.12 1050.06,1065.53 1054.07,1064.94 1058.08,1064.37 1062.08,1063.82 1066.09,1063.27 1070.10,1062.74 1074.11,1062.22 1078.12,1061.72 1082.12,1061.23 1086.13,1060.75 1090.14,1060.29 1094.15,1059.85 1098.16,1059.42 1102.16,1059.01 1106.17,1058.62 1110.18,1058.25 1114.19,1057.89 1118.20,1057.55 1122.20,1057.23 1126.21,1056.92 1130.22,1056.64 1134.23,1056.36 1138.24,1056.11 1142.24,1055.86 1146.25,1055.63 1150.26,1055.42 1154.27,1055.21 1158.28,1055.02 1162.28,1054.84 1166.29,1054.67 1170.30,1054.52 1174.31,1054.37 1178.32,1054.23 1182.32,1054.10 1186.33,1053.98 1190.34,1053.86 1194.35,1053.76 1198.36,1053.66 1202.36,1053.57 1206.37,1053.48 1210.38,1053.39 1214.39,1053.32 1218.40,1053.24 1222.40,1053.17 1226.41,1053.10 1230.42,1053.04 1234.43,1052.97 1238.44,1052.91 1242.44,1052.84 1246.45,1052.78 1250.46,1052.72 1254.47,1052.65 1258.48,1052.59 1262.48,1052.52 1266.49,1052.45 1270.50,1052.37 1274.30,1052.30"/>
<polyline stroke="#440154" points="268.50,1190.05 270.50,1190.05 272.51,1190.05 274.51,1190.05 276.52,1190.05 278.52,1190.04 280.52,1190.04 282.53,1190.03 284.53,1190.03 286.54,1190.02 288.54,1190.02 290.54,1190.01 292.55,1189.99 294.55,1189.97 296.56,1189.94 298.56,1189.91 300.56,1189.87 302.57,1189.83 304.57,1189.79 306.58,1189.75 308.58,1189.71 310.58,1189.67 312.59,1189.62 314.59,1189.57 316.60,1189.52 318.60,1189.47 320.60,1189.41 322.61,1189.35 324.61,1189.29 326.62,1189.23 328.62,1189.16 330.62,1189.09 332.63,1189.02 334.63,1188.95 336.64,1188.87 338.64,1188.79 340.64,1188.71 342.65,1188.63 344.65,1188.54 346.66,1188.45 348.66,1188.43 350.66,1188.36 352.67,1188.30 354.67,1188.23 356.68,1188.16 358.68,1188.10 360.68,1188.03 362.69,1187.96 364.69,1187.89 366.70,1187.82 368.70,1187.75 370.70,1187.68 372.71,1187.60 374.71,1187.53 376.72,1187.46 378.72,1187.38 380.72,1187.31 382.73,1187.24 384.73,1187.16 386.74,1187.09 388.74,1187.01 390.74,1186.93 392.75,1186.86 394.75,1186.78 396.76,1186.71 398.76,1186.63 400.76,1186.55 402.77,1186.47 404.77,1186.40 406.78,1186.32 408.78,1186.24 410.78,1186.16 412.79,1186.09 414.79,1186.01 416.80,1185.93 418.80,1185.85 420.80,1185.77 422.81,1185.69 424.81,1185.61 426.82,1185.54 428.82,1185.46 430.82,1185.38 432.83,1185.30 434.83,1185.22 436.84,1185.14 438.84,1185.06 440.84,1184.98 442.85,1184.90 444.85,1184.82 446.86,1184.74 448.86,1184.66 450.86,1184.58 452.87,1184.50 454.87,1184.42 456.88,1184.34 458.88,1184.27 460.88,1184.19 462.89,1184.11 464.89,1184.03 466.90,1183.95 468.90,1183.87 470.90,1183.79 472.91,1183.71 474.91,1183.63 476.92,1183.55 478.92,1183.48 480.92,1183.40 482.93,1183.32 484.93,1183.24 486.94,1183.16 488.94,1183.09 490.94,1183.01 492.95,1182.93 494.95,1182.85 496.96,1182.78 498.96,1182.70 500.96,1182.62 502.97,1182.55 504.97,1182.47 506.98,1182.39 508.98,1182.32 510.98,1182.24 512.99,1182.17 514.99,1182.09 517.00,1182.02 519.00,1181.95 521.00,1181.87 523.01,1181.80 525.01,1181.72 527.02,1181.65 529.02,1181.58 531.02,1181.51 533.03,1181.44 535.03,1181.36 537.04,1181.29 539.04,1181.22 541.04,1181.15 543.05,1181.08 545.05,1181.01 547.06,1180.94 549.06,1180.88 551.06,1180.81 553.07,1180.74 555.07,1180.67 557.08,1180.61 559.08,1180.54 561.08,1180.47 563.09,1180.41 565.09,1180.34 567.10,1180.28 569.10,1180.21 571.10,1180.15 573.11,1180.09 575.11,1180.02 577.12,1179.96 579.12,1179.90 581.12,1179.84 583.13,1179.78 585.13,1179.72 587.14,1179.66 589.14,1179.60 591.14,1179.54 593.15,1179.48 595.15,1179.42 597.16,1179.36 599.16,1179.31 601.16,1179.25 603.17,1179.19 605.17,1179.14 607.18,1179.08 609.18,1179.02 611.18,1178.97 613.19,1178.91 615.19,1178.86 617.20,1178.81 619.20,1178.75 621.20,1178.70 623.21,1178.65 625.21,1178.60 627.22,1178.55 629.22,1178.50 631.22,1178.44 633.23,1178.39 635.23,1178.34 637.24,1178.30 639.24,1178.25 641.24,1178.20 643.25,1178.15 645.25,1178.10 647.26,1178.06 649.26,1178.01 651.26,1177.96 653.27,1177.92 655.27,1177.87 657.28,1177.83 659.28,1177.78 661.28,1177.74 663.29,1177.70 665.29,1177.65 667.30,1177.61 669.30,1177.57 671.30,1177.53 673.31,1177.49 675.31,1177.45 677.32,1177.40 679.32,1177.36 681.32,1177.33 683.33,1177.29 685.33,1177.25 687.34,1177.21 689.34,1177.17 691.34,1177.13 693.35,1177.10 695.35,1177.06 697.36,1177.03 699.36,1176.99 701.36,1176.95 703.37,1176.92 705.37,1176.89 707.38,1176.85 709.38,1176.82 711.38,1176.79 713.39,1176.75 715.39,1176.72 717.40,1176.69 719.40,1176.66 721.40,1176.63 723.41,1176.60 725.41,1176.57 727.42,1176.54 729.42,1176.51 731.42,1176.48 733.43,1176.45 735.43,1176.42 737.44,1176.40 739.44,1176.37 741.44,1176.34 743.45,1176.32 745.45,1176.29 747.46,1176.27 749.46,1176.24 751.46,1176.22 753.47,1176.20 755.47,1176.17 757.48,1176.15 759.48,1176.13 761.48,1176.10 763.49,1176.08 765.49,1176.06 767.50,1176.04 769.50,1176.02 771.50,1176.00 773.51,1175.98 775.51,1175.96 777.52,1175.94 779.52,1175.93 781.52,1175.91 783.53,1175.89 785.53,1175.87 787.54,1175.86 789.54,1175.84 791.54,1175.83 793.55,1175.81 795.55,1175.80 797.56,1175.78 799.56,1175.77 801.56,1175.76 803.57,1175.74 805.57,1175.73 807.58,1175.72 809.58,1175.71 811.58,1175.70 813.59,1175.69 815.59,1175.68 817.60,1175.67 819.60,1175.66 821.60,1175.65 823.61,1175.64 825.61,1175.63 827.62,1175.62 829.62,1175.62 831.62,1175.61 833.63,1175.60 835.63,1175.60 837.64,1175.59 839.64,1175.59 841.64,1175.58 843.65,1175.58 845.65,1175.57 847.66,1175.57 849.66,1175.57 851.66,1175.57 853.67,1175.56 855.67,1175.56 857.68,1175.56 859.68,1175.56 861.68,1175.56 863.69,1175.56 865.69,1175.56 867.70,1175.56 869.70,1175.56 871.30,1175.57"/>
<polyline stroke="#482878" points="300.56,1189.85 302.57,1189.80 304.57,1189.74 306.58,1189.69 308.58,1189.63 310.58,1189.58 312.59,1189.52 314.59,1189.46 316.60,1189.41 318.60,1189.35 320.60,1189.29 322.61,1189.23 324.61,1189.18 326.62,1189.12 328.62,1189.06 330.62,1189.00 332.63,1188.94 334.63,1188.88 336.64,1188.82 338.64,1188.76 340.64,1188.70 342.65,1188.64 344.65,1188.57 346.66,1188.51 348.66,1188.45 350.66,1188.39 352.67,1188.32 354.67,1188.26 356.68,1188.20 358.68,1188.13 360.68,1188.07 362.69,1188.01 364.69,1187.94 366.70,1187.88 368.70,1187.81 370.70,1187.75 372.71,1187.68 374.71,1187.61 376.72,1187.55 378.72,1187.48 380.72,1187.42 382.73,1187.35 384.73,1187.28 386.74,1187.22 388.74,1187.15 390.74,1187.08 392.75,1187.01 394.75,1186.95 396.76,1186.88 398.76,1186.81 400.76,1186.74 402.77,1186.67 404.77,1186.61 406.78,1186.54 408.78,1186.47 410.78,1186.40 412.79,1186.33 414.79,1186.26 416.80,1186.19 418.80,1186.12 420.80,1186.05 422.81,1185.98 424.81,1185.91 426.82,1185.84 428.82,1185.77 430.82,1185.70 432.83,1185.63 434.83,1185.57 436.84,1185.50 438.84,1185.43 440.84,1185.36 442.85,1185.29 444.85,1185.21 446.86,1185.14 448.86,1185.07 450.86,1185.00 452.87,1184.93 454.87,1184.86 456.88,1184.79 458.88,1184.72 460.88,1184.65 462.89,1184.58 464.89,1184.51 466.90,1184.44 468.90,1184.37 470.90,1184.30 472.91,1184.23 474.91,1184.16 476.92,1184.09 478.92,1184.03 480.92,1183.96 482.93,1183.89 484.93,1183.82 486.94,1183.75 488.94,1183.68 490.94,1183.61 492.95,1183.54 494.95,1183.47 496.96,1183.40 498.96,1183.33 500.96,1183.27 502.97,1183.20 504.97,1183.13 506.98,1183.06 508.98,1182.99 510.98,1182.93 512.99,1182.86 514.99,1182.79 517.00,1182.72 519.00,1182.66 521.00,1182.59 523.01,1182.52 525.01,1182.46 527.02,1182.39 529.02,1182.33 531.02,1182.26 533.03,1182.19 535.03,1182.13 537.04,1182.06 539.04,1182.00 541.04,1181.93 543.05,1181.87 545.05,1181.81 547.06,1181.74 549.06,1181.68 551.06,1181.62 553.07,1181.55 555.07,1181.49 557.08,1181.43 559.08,1181.37 561.08,1181.30 563.09,1181.24 565.09,1181.18 567.10,1181.12 569.10,1181.06 571.10,1181.00 573.11,1180.94 575.11,1180.88 577.12,1180.82 579.12,1180.76 581.12,1180.71 583.13,1180.65 585.13,1180.59 587.14,1180.53 589.14,1180.48 591.14,1180.42 593.15,1180.37 595.15,1180.31 597.16,1180.25 599.16,1180.20 601.16,1180.15 603.17,1180.09 605.17,1180.04 607.18,1179.99 609.18,1179.93 611.18,1179.88 613.19,1179.83 615.19,1179.78 617.20,1179.73 619.20,1179.68 621.20,1179.63 623.21,1179.58 625.21,1179.53 627.22,1179.48 629.22,1179.43 631.22,1179.38 633.23,1179.34 635.23,1179.29 637.24,1179.24 639.24,1179.20 641.24,1179.15 643.25,1179.10 645.25,1179.06 647.26,1179.01 649.26,1178.97 651.26,1178.93 653.27,1178.88 655.27,1178.84 657.28,1178.80 659.28,1178.75 661.28,1178.71 663.29,1178.67 665.29,1178.63 667.30,1178.59 669.30,1178.55 671.30,1178.51 673.31,1178.47 675.31,1178.43 677.32,1178.39 679.32,1178.35 681.32,1178.31 683.33,1178.28 685.33,1178.24 687.34,1178.20 689.34,1178.17 691.34,1178.13 693.35,1178.09 695.35,1178.06 697.36,1178.02 699.36,1177.99 701.36,1177.96 703.37,1177.92 705.37,1177.89 707.38,1177.85 709.38,1177.82 711.38,1177.79 713.39,1177.76 715.39,1177.73 717.40,1177.69 719.40,1177.66 721.40,1177.63 723.41,1177.60 725.41,1177.57 727.42,1177.54 729.42,1177.51 731.42,1177.48 733.43,1177.46 735.43,1177.43 737.44,1177.40 739.44,1177.37 741.44,1177.34 743.45,1177.32 745.45,1177.29 747.46,1177.27 749.46,1177.24 751.46,1177.21 753.47,1177.19 755.47,1177.16 757.48,1177.14 759.48,1177.12 761.48,1177.09 763.49,1177.07 765.49,1177.05 767.50,1177.02 769.50,1177.00 771.50,1176.98 773.51,1176.96 775.51,1176.93 777.52,1176.91 779.52,1176.89 781.52,1176.87 783.53,1176.85 785.53,1176.83 787.54,1176.81 789.54,1176.79 791.54,1176.77 793.55,1176.76 795.55,1176.74 797.56,1176.72 799.56,1176.70 801.56,1176.68 803.57,1176.67 805.57,1176.65 807.58,1176.63 809.58,1176.62 811.58,1176.60 813.59,1176.59 815.59,1176.57 817.60,1176.56 819.60,1176.54 821.60,1176.53 823.61,1176.51 825.61,1176.50 827.62,1176.49 829.62,1176.47 831.62,1176.46 833.63,1176.45 835.63,1176.43 837.64,1176.42 839.64,1176.41 841.64,1176.40 843.65,1176.39 845.65,1176.38 847.66,1176.37 849.66,1176.36 851.66,1176.35 853.67,1176.34 855.67,1176.33 857.68,1176.32 859.68,1176.31 861.68,1176.30 863.69,1176.29 865.69,1176.28 867.70,1176.28 869.70,1176.27 871.70,1176.26 873.71,1176.25 875.71,1176.25 877.72,1176.24 879.72,1176.23 881.72,1176.23 883.73,1176.22 885.73,1176.22 887.74,1176.21 889.74,1176.21 891.74,1176.20 893.75,1176.20 895.75,1176.19 897.76,1176.19 899.76,1176.18 901.76,1176.18 902.16,1176.18"/>
<polyline stroke="#3e4989" points="306.58,1189.92 308.58,1189.86 310.58,1189.80 312.59,1189.74 314.59,1189.68 316.60,1189.62 318.60,1189.56 320.60,1189.50 322.61,1189.44 324.61,1189.38 326.62,1189.31 328.62,1189.25 330.62,1189.19 332.63,1189.12 334.63,1189.06 336.64,1189.00 338.64,1188.93 340.64,1188.87 342.65,1188.80 344.65,1188.74 346.66,1188.68 348.66,1188.61 350.66,1188.54 352.67,1188.48 354.67,1188.41 356.68,1188.35 358.68,1188.28 360.68,1188.22 362.69,1188.15 364.69,1188.08 366.70,1188.02 368.70,1187.95 370.70,1187.88 372.71,1187.82 374.71,1187.75 376.72,1187.68 378.72,1187.61 380.72,1187.55 382.73,1187.48 384.73,1187.41 386.74,1187.34 388.74,1187.27 390.74,1187.21 392.75,1187.14 394.75,1187.07 396.76,1187.00 398.76,1186.93 400.76,1186.86 402.77,1186.79 404.77,1186.73 406.78,1186.66 408.78,1186.59 410.78,1186.52 412.79,1186.45 414.79,1186.38 416.80,1186.31 418.80,1186.24 420.80,1186.17 422.81,1186.10 424.81,1186.03 426.82,1185.96 428.82,1185.89 430.82,1185.83 432.83,1185.76 434.83,1185.69 436.84,1185.62 438.84,1185.55 440.84,1185.48 442.85,1185.41 444.85,1185.34 446.86,1185.27 448.86,1185.20 450.86,1185.13 452.87,1185.06 454.87,1184.99 456.88,1184.92 458.88,1184.85 460.88,1184.78 462.89,1184.72 464.89,1184.65 466.90,1184.58 468.90,1184.51 470.90,1184.44 472.91,1184.37 474.91,1184.30 476.92,1184.23 478.92,1184.17 480.92,1184.10 482.93,1184.03 484.93,1183.96 486.94,1183.89 488.94,1183.82 490.94,1183.76 492.95,1183.69 494.95,1183.62 496.96,1183.55 498.96,1183.49 500.96,1183.42 502.97,1183.35 504.97,1183.29 506.98,1183.22 508.98,1183.15 510.98,1183.09 512.99,1183.02 514.99,1182.95 517.00,1182.89 519.00,1182.82 521.00,1182.76 523.01,1182.69 525.01,1182.63 527.02,1182.56 529.02,1182.50 531.02,1182.43 533.03,1182.37 535.03,1182.31 537.04,1182.24 539.04,1182.18 541.04,1182.12 543.05,1182.05 545.05,1181.99 547.06,1181.93 549.06,1181.87 551.06,1181.81 553.07,1181.74 555.07,1181.68 557.08,1181.62 559.08,1181.56 561.08,1181.50 563.09,1181.44 565.09,1181.38 567.10,1181.32 569.10,1181.26 571.10,1181.20 573.11,1181.15 575.11,1181.09 577.12,1181.03 579.12,1180.97 581.12,1180.92 583.13,1180.86 585.13,1180.80 587.14,1180.75 589.14,1180.69 591.14,1180.64 593.15,1180.58 595.15,1180.53 597.16,1180.47 599.16,1180.42 601.16,1180.37 603.17,1180.31 605.17,1180.26 607.18,1180.21 609.18,1180.16 611.18,1180.10 613.19,1180.05 615.19,1180.00 617.20,1179.95 619.20,1179.90 621.20,1179.85 623.21,1179.80 625.21,1179.76 627.22,1179.71 629.22,1179.66 631.22,1179.61 633.23,1179.57 635.23,1179.52 637.24,1179.47 639.24,1179.43 641.24,1179.38 643.25,1179.34 645.25,1179.29 647.26,1179.25 649.26,1179.20 651.26,1179.16 653.27,1179.12 655.27,1179.07 657.28,1179.03 659.28,1178.99 661.28,1178.95 663.29,1178.91 665.29,1178.86 667.30,1178.82 669.30,1178.78 671.30,1178.74 673.31,1178.70 675.31,1178.66 677.32,1178.63 679.32,1178.59 681.32,1178.55 683.33,1178.51 685.33,1178.47 687.34,1178.44 689.34,1178.40 691.34,1178.36 693.35,1178.33 695.35,1178.29 697.36,1178.26 699.36,1178.22 701.36,1178.19 703.37,1178.15 705.37,1178.12 707.38,1178.09 709.38,1178.05 711.38,1178.02 713.39,1177.99 715.39,1177.96 717.40,1177.92 719.40,1177.89 721.40,1177.86 723.41,1177.83 725.41,1177.80 727.42,1177.77 729.42,1177.74 731.42,1177.71 733.43,1177.68 735.43,1177.65 737.44,1177.63 739.44,1177.60 741.44,1177.57 743.45,1177.54 745.45,1177.52 747.46,1177.49 749.46,1177.46 751.46,1177.44 753.47,1177.41 755.47,1177.38 757.48,1177.36 759.48,1177.33 761.48,1177.31 763.49,1177.29 765.49,1177.26 767.50,1177.24 769.50,1177.22 771.50,1177.19 773.51,1177.17 775.51,1177.15 777.52,1177.13 779.52,1177.10 781.52,1177.08 783.53,1177.06 785.53,1177.04 787.54,1177.02 789.54,1177.00 791.54,1176.98 793.55,1176.96 795.55,1176.94 797.56,1176.92 799.56,1176.91 801.56,1176.89 803.57,1176.87 805.57,1176.85 807.58,1176.83 809.58,1176.82 811.58,1176.80 813.59,1176.78 815.59,1176.77 817.60,1176.75 819.60,1176.74 821.60,1176.72 823.61,1176.71 825.61,1176.69 827.62,1176.68 829.62,1176.66 831.62,1176.65 833.63,1176.64 835.63,1176.62 837.64,1176.61 839.64,1176.60 841.64,1176.58 843.65,1176.57 845.65,1176.56 847.66,1176.55 849.66,1176.54 851.66,1176.53 853.67,1176.52 855.67,1176.51 857.68,1176.50 859.68,1176.49 861.68,1176.48 863.69,1176.47 865.69,1176.46 867.70,1176.45 869.70,1176.44 871.70,1176.43 873.71,1176.42 875.71,1176.42 877.72,1176.41 879.72,1176.40 881.72,1176.40 883.73,1176.39 885.73,1176.38 887.74,1176.38 889.74,1176.37 891.74,1176.36 893.75,1176.36 895.75,1176.35 897.76,1176.35 899.76,1176.34 901.76,1176.34 903.77,1176.34 905.77,1176.33 907.78,1176.33 909.78,1176.33 911.78,1176.32 913.79,1176.32 915.79,1176.32 917.80,1176.31 919.80,1176.31 921.80,1176.31 923.81,1176.31 925.81,1176.31 927.82,1176.31 929.82,1176.31 931.82,1176.30 933.43,1176.30"/>
<polyline stroke="#31688e" points="314.59,1189.90 316.60,1189.84 318.60,1189.77 320.60,1189.71 322.61,1189.64 324.61,1189.57 326.62,1189.51 328.62,1189.44 330.62,1189.38 332.63,1189.31 334.63,1189.24 336.64,1189.17 338.64,1189.11 340.64,1189.04 342.65,1188.97 344.65,1188.91 346.66,1188.84 348.66,1188.77 350.66,1188.70 352.67,1188.64 354.67,1188.57 356.68,1188.50 358.68,1188.43 360.68,1188.36 362.69,1188.29 364.69,1188.23 366.70,1188.16 368.70,1188.09 370.70,1188.02 372.71,1187.95 374.71,1187.88 376.72,1187.81 378.72,1187.75 380.72,1187.68 382.73,1187.61 384.73,1187.54 386.74,1187.47 388.74,1187.40 390.74,1187.33 392.75,1187.26 394.75,1187.19 396.76,1187.12 398.76,1187.05 400.76,1186.99 402.77,1186.92 404.77,1186.85 406.78,1186.78 408.78,1186.71 410.78,1186.64 412.79,1186.57 414.79,1186.50 416.80,1186.43 418.80,1186.36 420.80,1186.29 422.81,1186.22 424.81,1186.15 426.82,1186.08 428.82,1186.02 430.82,1185.95 432.83,1185.88 434.83,1185.81 436.84,1185.74 438.84,1185.67 440.84,1185.60 442.85,1185.53 444.85,1185.46 446.86,1185.39 448.86,1185.33 450.86,1185.26 452.87,1185.19 454.87,1185.12 456.88,1185.05 458.88,1184.98 460.88,1184.92 462.89,1184.85 464.89,1184.78 466.90,1184.71 468.90,1184.64 470.90,1184.58 472.91,1184.51 474.91,1184.44 476.92,1184.37 478.92,1184.31 480.92,1184.24 482.93,1184.17 484.93,1184.10 486.94,1184.04 488.94,1183.97 490.94,1183.90 492.95,1183.84 494.95,1183.77 496.96,1183.71 498.96,1183.64 500.96,1183.57 502.97,1183.51 504.97,1183.44 506.98,1183.38 508.98,1183.31 510.98,1183.25 512.99,1183.18 514.99,1183.12 517.00,1183.05 519.00,1182.99 521.00,1182.93 523.01,1182.86 525.01,1182.80 527.02,1182.74 529.02,1182.67 531.02,1182.61 533.03,1182.55 535.03,1182.49 537.04,1182.42 539.04,1182.36 541.04,1182.30 543.05,1182.24 545.05,1182.18 547.06,1182.12 549.06,1182.06 551.06,1182.00 553.07,1181.93 555.07,1181.88 557.08,1181.82 559.08,1181.76 561.08,1181.70 563.09,1181.64 565.09,1181.58 567.10,1181.52 569.10,1181.46 571.10,1181.41 573.11,1181.35 575.11,1181.29 577.12,1181.24 579.12,1181.18 581.12,1181.12 583.13,1181.07 585.13,1181.01 587.14,1180.96 589.14,1180.90 591.14,1180.85 593.15,1180.80 595.15,1180.74 597.16,1180.69 599.16,1180.64 601.16,1180.58 603.17,1180.53 605.17,1180.48 607.18,1180.43 609.18,1180.38 611.18,1180.33 613.19,1180.28 615.19,1180.23 617.20,1180.18 619.20,1180.13 621.20,1180.08 623.21,1180.03 625.21,1179.98 627.22,1179.94 629.22,1179.89 631.22,1179.84 633.23,1179.80 635.23,1179.75 637.24,1179.70 639.24,1179.66 641.24,1179.61 643.25,1179.57 645.25,1179.52 647.26,1179.48 649.26,1179.44 651.26,1179.39 653.27,1179.35 655.27,1179.31 657.28,1179.27 659.28,1179.22 661.28,1179.18 663.29,1179.14 665.29,1179.10 667.30,1179.06 669.30,1179.02 671.30,1178.98 673.31,1178.94 675.31,1178.90 677.32,1178.86 679.32,1178.82 681.32,1178.78 683.33,1178.75 685.33,1178.71 687.34,1178.67 689.34,1178.64 691.34,1178.60 693.35,1178.56 695.35,1178.53 697.36,1178.49 699.36,1178.46 701.36,1178.42 703.37,1178.39 705.37,1178.35 707.38,1178.32 709.38,1178.29 711.38,1178.25 713.39,1178.22 715.39,1178.19 717.40,1178.15 719.40,1178.12 721.40,1178.09 723.41,1178.06 725.41,1178.03 727.42,1178.00 729.42,1177.97 731.42,1177.94 733.43,1177.91 735.43,1177.88 737.44,1177.85 739.44,1177.82 741.44,1177.79 743.45,1177.77 745.45,1177.74 747.46,1177.71 749.46,1177.68 751.46,1177.66 753.47,1177.63 755.47,1177.61 757.48,1177.58 759.48,1177.55 761.48,1177.53 763.49,1177.50 765.49,1177.48 767.50,1177.46 769.50,1177.43 771.50,1177.41 773.51,1177.38 775.51,1177.36 777.52,1177.34 779.52,1177.32 781.52,1177.29 783.53,1177.27 785.53,1177.25 787.54,1177.23 789.54,1177.21 791.54,1177.19 793.55,1177.17 795.55,1177.15 797.56,1177.13 799.56,1177.11 801.56,1177.09 803.57,1177.07 805.57,1177.05 807.58,1177.03 809.58,1177.02 811.58,1177.00 813.59,1176.98 815.59,1176.97 817.60,1176.95 819.60,1176.93 821.60,1176.92 823.61,1176.90 825.61,1176.88 827.62,1176.87 829.62,1176.85 831.62,1176.84 833.63,1176.83 835.63,1176.81 837.64,1176.80 839.64,1176.78 841.64,1176.77 843.65,1176.76 845.65,1176.74 847.66,1176.73 849.66,1176.72 851.66,1176.71 853.67,1176.70 855.67,1176.69 857.68,1176.67 859.68,1176.66 861.68,1176.65 863.69,1176.64 865.69,1176.63 867.70,1176.62 869.70,1176.61 871.70,1176.60 873.71,1176.60 875.71,1176.59 877.72,1176.58 879.72,1176.57 881.72,1176.56 883.73,1176.56 885.73,1176.55 887.74,1176.54 889.74,1176.53 891.74,1176.53 893.75,1176.52 895.75,1176.52 897.76,1176.51 899.76,1176.50 901.76,1176.50 903.77,1176.49 905.77,1176.49 907.78,1176.49 909.78,1176.48 911.78,1176.48 913.79,1176.47 915.79,1176.47 917.80,1176.47 919.80,1176.46 921.80,1176.46 923.81,1176.46 925.81,1176.46 927.82,1176.46 929.82,1176.45 931.82,1176.45 933.83,1176.45 935.83,1176.45"/>
<polyline stroke="#26828e" points="322.61,1189.84 324.61,1189.77 326.62,1189.70 328.62,1189.63 330.62,1189.56 332.63,1189.49 334.63,1189.42 336.64,1189.35 338.64,1189.28 340.64,1189.21 342.65,1189.14 344.65,1189.07 346.66,1189.00 348.66,1188.93 350.66,1188.86 352.67,1188.79 354.67,1188.72 356.68,1188.65 358.68,1188.58 360.68,1188.51 362.69,1188.44 364.69,1188.37 366.70,1188.30 368.70,1188.23 370.70,1188.16 372.71,1188.09 374.71,1188.02 376.72,1187.95 378.72,1187.88 380.72,1187.81 382.73,1187.74 384.73,1187.67 386.74,1187.60 388.74,1187.53 390.74,1187.46 392.75,1187.39 394.75,1187.32 396.76,1187.25 398.76,1187.18 400.76,1187.11 402.77,1187.04 404.77,1186.97 406.78,1186.90 408.78,1186.83 410.78,1186.76 412.79,1186.69 414.79,1186.62 416.80,1186.55 418.80,1186.48 420.80,1186.41 422.81,1186.34 424.81,1186.27 426.82,1186.20 428.82,1186.14 430.82,1186.07 432.83,1186.00 434.83,1185.93 436.84,1185.86 438.84,1185.79 440.84,1185.72 442.85,1185.66 444.85,1185.59 446.86,1185.52 448.86,1185.45 450.86,1185.38 452.87,1185.32 454.87,1185.25 456.88,1185.18 458.88,1185.11 460.88,1185.05 462.89,1184.98 464.89,1184.91 466.90,1184.84 468.90,1184.78 470.90,1184.71 472.91,1184.64 474.91,1184.58 476.92,1184.51 478.92,1184.45 480.92,1184.38 482.93,1184.31 484.93,1184.25 486.94,1184.18 488.94,1184.12 490.94,1184.05 492.95,1183.99 494.95,1183.92 496.96,1183.86 498.96,1183.79 500.96,1183.73 502.97,1183.66 504.97,1183.60 506.98,1183.54 508.98,1183.47 510.98,1183.41 512.99,1183.35 514.99,1183.28 517.00,1183.22 519.00,1183.16 521.00,1183.09 523.01,1183.03 525.01,1182.97 527.02,1182.91 529.02,1182.85 531.02,1182.79 533.03,1182.72 535.03,1182.66 537.04,1182.60 539.04,1182.54 541.04,1182.48 543.05,1182.42 545.05,1182.36 547.06,1182.30 549.06,1182.24 551.06,1182.18 553.07,1182.13 555.07,1182.07 557.08,1182.01 559.08,1181.95 561.08,1181.89 563.09,1181.84 565.09,1181.78 567.10,1181.72 569.10,1181.67 571.10,1181.61 573.11,1181.55 575.11,1181.50 577.12,1181.44 579.12,1181.39 581.12,1181.33 583.13,1181.28 585.13,1181.22 587.14,1181.17 589.14,1181.12 591.14,1181.06 593.15,1181.01 595.15,1180.96 597.16,1180.91 599.16,1180.86 601.16,1180.80 603.17,1180.75 605.17,1180.70 607.18,1180.65 609.18,1180.60 611.18,1180.55 613.19,1180.50 615.19,1180.45 617.20,1180.40 619.20,1180.36 621.20,1180.31 623.21,1180.26 625.21,1180.21 627.22,1180.17 629.22,1180.12 631.22,1180.07 633.23,1180.03 635.23,1179.98 637.24,1179.94 639.24,1179.89 641.24,1179.85 643.25,1179.80 645.25,1179.76 647.26,1179.71 649.26,1179.67 651.26,1179.63 653.27,1179.58 655.27,1179.54 657.28,1179.50 659.28,1179.46 661.28,1179.42 663.29,1179.37 665.29,1179.33 667.30,1179.29 669.30,1179.25 671.30,1179.21 673.31,1179.17 675.31,1179.13 677.32,1179.10 679.32,1179.06 681.32,1179.02 683.33,1178.98 685.33,1178.94 687.34,1178.91 689.34,1178.87 691.34,1178.83 693.35,1178.80 695.35,1178.76 697.36,1178.72 699.36,1178.69 701.36,1178.65 703.37,1178.62 705.37,1178.59 707.38,1178.55 709.38,1178.52 711.38,1178.48 713.39,1178.45 715.39,1178.42 717.40,1178.39 719.40,1178.35 721.40,1178.32 723.41,1178.29 725.41,1178.26 727.42,1178.23 729.42,1178.20 731.42,1178.17 733.43,1178.14 735.43,1178.11 737.44,1178.08 739.44,1178.05 741.44,1178.02 743.45,1177.99 745.45,1177.96 747.46,1177.93 749.46,1177.91 751.46,1177.88 753.47,1177.85 755.47,1177.83 757.48,1177.80 759.48,1177.77 761.48,1177.75 763.49,1177.72 765.49,1177.70 767.50,1177.67 769.50,1177.65 771.50,1177.62 773.51,1177.60 775.51,1177.57 777.52,1177.55 779.52,1177.53 781.52,1177.51 783.53,1177.48 785.53,1177.46 787.54,1177.44 789.54,1177.42 791.54,1177.40 793.55,1177.37 795.55,1177.35 797.56,1177.33 799.56,1177.31 801.56,1177.29 803.57,1177.27 805.57,1177.25 807.58,1177.24 809.58,1177.22 811.58,1177.20 813.59,1177.18 815.59,1177.16 817.60,1177.14 819.60,1177.13 821.60,1177.11 823.61,1177.09 825.61,1177.08 827.62,1177.06 829.62,1177.05 831.62,1177.03 833.63,1177.01 835.63,1177.00 837.64,1176.98 839.64,1176.97 841.64,1176.96 843.65,1176.94 845.65,1176.93 847.66,1176.91 849.66,1176.90 851.66,1176.89 853.67,1176.88 855.67,1176.86 857.68,1176.85 859.68,1176.84 861.68,1176.83 863.69,1176.82 865.69,1176.81 867.70,1176.80 869.70,1176.79 871.70,1176.78 873.71,1176.77 875.71,1176.76 877.72,1176.75 879.72,1176.74 881.72,1176.73 883.73,1176.72 885.73,1176.71 887.74,1176.71 889.74,1176.70 891.74,1176.69 893.75,1176.68 895.75,1176.68 897.76,1176.67 899.76,1176.66 901.76,1176.66 903.77,1176.65 905.77,1176.65 907.78,1176.64 909.78,1176.64 911.78,1176.63 913.79,1176.63 915.79,1176.62 917.80,1176.62 919.80,1176.62 921.80,1176.61 923.81,1176.61 925.81,1176.61 927.82,1176.60 929.82,1176.60 931.82,1176.60 933.83,1176.60 935.83,1176.60 937.84,1176.60 939.84,1176.59 941.84,1176.59 943.85,1176.59 945.85,1176.59 947.86,1176.59"/>
<polyline stroke="#1f9e89" points="332.23,1189.69 334.23,1189.62 336.24,1189.55 338.24,1189.47 340.24,1189.40 342.25,1189.33 344.25,1189.25 346.26,1189.18 348.26,1189.11 350.26,1189.03 352.27,1188.96 354.27,1188.89 356.28,1188.82 358.28,1188.74 360.28,1188.67 362.29,1188.60 364.29,1188.53 366.30,1188.45 368.30,1188.38 370.30,1188.31 372.31,1188.24 374.31,1188.17 376.32,1188.09 378.32,1188.02 380.32,1187.95 382.33,1187.88 384.33,1187.81 386.34,1187.74 388.34,1187.67 390.34,1187.60 392.35,1187.52 394.35,1187.45 396.36,1187.38 398.36,1187.31 400.36,1187.24 402.37,1187.17 404.37,1187.10 406.38,1187.03 408.38,1186.96 410.38,1186.89 412.39,1186.82 414.39,1186.75 416.40,1186.68 418.40,1186.61 420.40,1186.55 422.41,1186.48 424.41,1186.41 426.42,1186.34 428.42,1186.27 430.42,1186.20 432.43,1186.13 434.43,1186.06 436.44,1186.00 438.44,1185.93 440.44,1185.86 442.45,1185.79 444.45,1185.73 446.46,1185.66 448.46,1185.59 450.46,1185.52 452.47,1185.46 454.47,1185.39 456.48,1185.32 458.48,1185.26 460.48,1185.19 462.49,1185.12 464.49,1185.06 466.50,1184.99 468.50,1184.93 470.50,1184.86 472.51,1184.79 474.51,1184.73 476.52,1184.66 478.52,1184.60 480.52,1184.53 482.53,1184.47 484.53,1184.40 486.54,1184.34 488.54,1184.28 490.54,1184.21 492.55,1184.15 494.55,1184.08 496.56,1184.02 498.56,1183.96 500.56,1183.89 502.57,1183.83 504.57,1183.77 506.58,1183.71 508.58,1183.64 510.58,1183.58 512.59,1183.52 514.59,1183.46 516.60,1183.40 518.60,1183.34 520.60,1183.27 522.61,1183.21 524.61,1183.15 526.62,1183.09 528.62,1183.03 530.62,1182.97 532.63,1182.91 534.63,1182.85 536.64,1182.79 538.64,1182.73 540.64,1182.68 542.65,1182.62 544.65,1182.56 546.66,1182.50 548.66,1182.44 550.66,1182.39 552.67,1182.33 554.67,1182.27 556.68,1182.21 558.68,1182.16 560.68,1182.10 562.69,1182.05 564.69,1181.99 566.70,1181.93 568.70,1181.88 570.70,1181.82 572.71,1181.77 574.71,1181.71 576.72,1181.66 578.72,1181.61 580.72,1181.55 582.73,1181.50 584.73,1181.45 586.74,1181.39 588.74,1181.34 590.74,1181.29 592.75,1181.24 594.75,1181.19 596.76,1181.13 598.76,1181.08 600.76,1181.03 602.77,1180.98 604.77,1180.93 606.78,1180.88 608.78,1180.83 610.78,1180.79 612.79,1180.74 614.79,1180.69 616.80,1180.64 618.80,1180.59 620.80,1180.54 622.81,1180.50 624.81,1180.45 626.82,1180.40 628.82,1180.36 630.82,1180.31 632.83,1180.27 634.83,1180.22 636.84,1180.18 638.84,1180.13 640.84,1180.09 642.85,1180.04 644.85,1180.00 646.86,1179.95 648.86,1179.91 650.86,1179.87 652.87,1179.83 654.87,1179.78 656.88,1179.74 658.88,1179.70 660.88,1179.66 662.89,1179.62 664.89,1179.58 666.90,1179.54 668.90,1179.50 670.90,1179.46 672.91,1179.42 674.91,1179.38 676.92,1179.34 678.92,1179.30 680.92,1179.26 682.93,1179.22 684.93,1179.19 686.94,1179.15 688.94,1179.11 690.94,1179.07 692.95,1179.04 694.95,1179.00 696.96,1178.97 698.96,1178.93 700.96,1178.89 702.97,1178.86 704.97,1178.82 706.98,1178.79 708.98,1178.76 710.98,1178.72 712.99,1178.69 714.99,1178.66 717.00,1178.62 719.00,1178.59 721.00,1178.56 723.01,1178.53 725.01,1178.49 727.02,1178.46 729.02,1178.43 731.02,1178.40 733.03,1178.37 735.03,1178.34 737.04,1178.31 739.04,1178.28 741.04,1178.25 743.05,1178.22 745.05,1178.19 747.06,1178.16 749.06,1178.13 751.06,1178.11 753.07,1178.08 755.07,1178.05 757.08,1178.02 759.08,1178.00 761.08,1177.97 763.09,1177.94 765.09,1177.92 767.10,1177.89 769.10,1177.87 771.10,1177.84 773.11,1177.82 775.11,1177.79 777.12,1177.77 779.12,1177.74 781.12,1177.72 783.13,1177.70 785.13,1177.67 787.14,1177.65 789.14,1177.63 791.14,1177.61 793.15,1177.59 795.15,1177.56 797.16,1177.54 799.16,1177.52 801.16,1177.50 803.17,1177.48 805.17,1177.46 807.18,1177.44 809.18,1177.42 811.18,1177.40 813.19,1177.38 815.19,1177.36 817.20,1177.34 819.20,1177.33 821.20,1177.31 823.21,1177.29 825.21,1177.27 827.22,1177.26 829.22,1177.24 831.22,1177.22 833.23,1177.21 835.23,1177.19 837.24,1177.17 839.24,1177.16 841.24,1177.14 843.25,1177.13 845.25,1177.11 847.26,1177.10 849.26,1177.09 851.26,1177.07 853.27,1177.06 855.27,1177.05 857.28,1177.03 859.28,1177.02 861.28,1177.01 863.29,1177.00 865.29,1176.98 867.30,1176.97 869.30,1176.96 871.30,1176.95 873.31,1176.94 875.31,1176.93 877.32,1176.92 879.32,1176.91 881.32,1176.90 883.33,1176.89 885.33,1176.88 887.34,1176.87 889.34,1176.86 891.34,1176.86 893.35,1176.85 895.35,1176.84 897.36,1176.83 899.36,1176.83 901.36,1176.82 903.37,1176.81 905.37,1176.81 907.38,1176.80 909.38,1176.79 911.38,1176.79 913.39,1176.78 915.39,1176.78 917.40,1176.77 919.40,1176.77 921.40,1176.77 923.41,1176.76 925.41,1176.76 927.42,1176.75 929.42,1176.75 931.42,1176.75 933.43,1176.75 935.43,1176.74 937.44,1176.74 939.44,1176.74 941.44,1176.74 943.45,1176.74 945.45,1176.74 947.46,1176.74 949.46,1176.74 951.46,1176.74 951.86,1176.74"/>
<polyline stroke="#35b779" points="344.85,1189.40 346.86,1189.32 348.86,1189.24 350.86,1189.17 352.87,1189.09 354.87,1189.02 356.88,1188.94 358.88,1188.87 360.88,1188.80 362.89,1188.72 364.89,1188.65 366.90,1188.57 368.90,1188.50 370.90,1188.43 372.91,1188.35 374.91,1188.28 376.92,1188.21 378.92,1188.13 380.92,1188.06 382.93,1187.99 384.93,1187.92 386.94,1187.84 388.94,1187.77 390.94,1187.70 392.95,1187.63 394.95,1187.56 396.96,1187.48 398.96,1187.41 400.96,1187.34 402.97,1187.27 404.97,1187.20 406.98,1187.13 408.98,1187.06 410.98,1186.99 412.99,1186.92 414.99,1186.85 417.00,1186.78 419.00,1186.71 421.00,1186.64 423.01,1186.58 425.01,1186.51 427.02,1186.44 429.02,1186.37 431.02,1186.30 433.03,1186.23 435.03,1186.17 437.04,1186.10 439.04,1186.03 441.04,1185.96 443.05,1185.90 445.05,1185.83 447.06,1185.76 449.06,1185.70 451.06,1185.63 453.07,1185.56 455.07,1185.50 457.08,1185.43 459.08,1185.37 461.08,1185.30 463.09,1185.24 465.09,1185.17 467.10,1185.11 469.10,1185.04 471.10,1184.98 473.11,1184.91 475.11,1184.85 477.12,1184.78 479.12,1184.72 481.12,1184.66 483.13,1184.59 485.13,1184.53 487.14,1184.47 489.14,1184.40 491.14,1184.34 493.15,1184.28 495.15,1184.22 497.16,1184.15 499.16,1184.09 501.16,1184.03 503.17,1183.97 505.17,1183.91 507.18,1183.85 509.18,1183.79 511.18,1183.72 513.19,1183.66 515.19,1183.60 517.20,1183.54 519.20,1183.48 521.20,1183.42 523.21,1183.37 525.21,1183.31 527.22,1183.25 529.22,1183.19 531.22,1183.13 533.23,1183.07 535.23,1183.01 537.24,1182.96 539.24,1182.90 541.24,1182.84 543.25,1182.78 545.25,1182.73 547.26,1182.67 549.26,1182.61 551.26,1182.56 553.27,1182.50 555.27,1182.45 557.28,1182.39 559.28,1182.34 561.28,1182.28 563.29,1182.23 565.29,1182.17 567.30,1182.12 569.30,1182.06 571.30,1182.01 573.31,1181.96 575.31,1181.90 577.32,1181.85 579.32,1181.80 581.32,1181.75 583.33,1181.69 585.33,1181.64 587.34,1181.59 589.34,1181.54 591.34,1181.49 593.35,1181.44 595.35,1181.39 597.36,1181.34 599.36,1181.29 601.36,1181.24 603.37,1181.19 605.37,1181.14 607.38,1181.09 609.38,1181.04 611.38,1180.99 613.39,1180.95 615.39,1180.90 617.40,1180.85 619.40,1180.80 621.40,1180.76 623.41,1180.71 625.41,1180.66 627.42,1180.62 629.42,1180.57 631.42,1180.53 633.43,1180.48 635.43,1180.44 637.44,1180.39 639.44,1180.35 641.44,1180.31 643.45,1180.26 645.45,1180.22 647.46,1180.18 649.46,1180.13 651.46,1180.09 653.47,1180.05 655.47,1180.01 657.48,1179.96 659.48,1179.92 661.48,1179.88 663.49,1179.84 665.49,1179.80 667.50,1179.76 669.50,1179.72 671.50,1179.68 673.51,1179.64 675.51,1179.60 677.52,1179.56 679.52,1179.52 681.52,1179.49 683.53,1179.45 685.53,1179.41 687.54,1179.37 689.54,1179.33 691.54,1179.30 693.55,1179.26 695.55,1179.22 697.56,1179.19 699.56,1179.15 701.56,1179.12 703.57,1179.08 705.57,1179.05 707.58,1179.01 709.58,1178.98 711.58,1178.94 713.59,1178.91 715.59,1178.88 717.60,1178.84 719.60,1178.81 721.60,1178.78 723.61,1178.74 725.61,1178.71 727.62,1178.68 729.62,1178.65 731.62,1178.62 733.63,1178.59 735.63,1178.56 737.64,1178.53 739.64,1178.50 741.64,1178.47 743.65,1178.44 745.65,1178.41 747.66,1178.38 749.66,1178.35 751.66,1178.32 753.67,1178.29 755.67,1178.26 757.68,1178.24 759.68,1178.21 761.68,1178.18 763.69,1178.15 765.69,1178.13 767.70,1178.10 769.70,1178.08 771.70,1178.05 773.71,1178.02 775.71,1178.00 777.72,1177.97 779.72,1177.95 781.72,1177.93 783.73,1177.90 785.73,1177.88 787.74,1177.85 789.74,1177.83 791.74,1177.81 793.75,1177.79 795.75,1177.76 797.76,1177.74 799.76,1177.72 801.76,1177.70 803.77,1177.68 805.77,1177.66 807.78,1177.63 809.78,1177.61 811.78,1177.59 813.79,1177.57 815.79,1177.55 817.80,1177.54 819.80,1177.52 821.80,1177.50 823.81,1177.48 825.81,1177.46 827.82,1177.44 829.82,1177.43 831.82,1177.41 833.83,1177.39 835.83,1177.37 837.84,1177.36 839.84,1177.34 841.84,1177.33 843.85,1177.31 845.85,1177.29 847.86,1177.28 849.86,1177.26 851.86,1177.25 853.87,1177.24 855.87,1177.22 857.88,1177.21 859.88,1177.19 861.88,1177.18 863.89,1177.17 865.89,1177.16 867.90,1177.14 869.90,1177.13 871.90,1177.12 873.91,1177.11 875.91,1177.10 877.92,1177.09 879.92,1177.08 881.92,1177.06 883.93,1177.05 885.93,1177.04 887.94,1177.04 889.94,1177.03 891.94,1177.02 893.95,1177.01 895.95,1177.00 897.96,1176.99 899.96,1176.98 901.96,1176.98 903.97,1176.97 905.97,1176.96 907.98,1176.96 909.98,1176.95 911.98,1176.94 913.99,1176.94 915.99,1176.93 918.00,1176.93 920.00,1176.92 922.00,1176.92 924.01,1176.91 926.01,1176.91 928.02,1176.90 930.02,1176.90 932.02,1176.90 934.03,1176.89 936.03,1176.89 938.04,1176.89 940.04,1176.88 942.04,1176.88 944.05,1176.88 946.05,1176.88 948.06,1176.88 950.06,1176.88 952.06,1176.88 954.07,1176.88 956.07,1176.88 958.08,1176.88 960.08,1176.88 962.08,1176.88 962.28,1176.88"/>
<polyline stroke="#440154" points="268.50,1190.04 270.50,1190.04 272.51,1190.04 274.51,1190.05 276.52,1190.05 278.52,1190.06 280.52,1190.06 282.53,1190.07 284.53,1190.08 286.54,1190.08 288.54,1190.09 290.54,1190.10 292.55,1190.10 294.55,1190.11 296.56,1190.12 298.56,1190.13 300.56,1190.14 302.57,1190.15 304.57,1190.17 306.58,1190.18 308.58,1190.19 310.58,1190.20 312.59,1190.21 314.59,1190.22 316.60,1190.23 318.60,1190.25 320.60,1190.26 322.61,1190.27 324.61,1190.28 326.62,1190.29 328.62,1190.30 330.62,1190.31 332.63,1190.32 334.63,1190.33 336.64,1190.34 338.64,1190.35 340.64,1190.36 342.65,1190.37 344.65,1190.38 346.66,1190.39 348.66,1190.40 350.66,1190.41 352.67,1190.42 354.67,1190.43 356.68,1190.44 358.68,1190.45 360.68,1190.46 362.69,1190.47 364.69,1190.48 366.70,1190.49 368.70,1190.50 370.70,1190.51 372.71,1190.52 374.71,1190.53 376.72,1190.54 378.72,1190.54 380.72,1190.55 382.73,1190.56 384.73,1190.57 386.74,1190.58 388.74,1190.59 390.74,1190.59 392.75,1190.60 394.75,1190.61 396.76,1190.61 398.76,1190.62 400.76,1190.62 402.77,1190.63 404.77,1190.63 406.78,1190.64 408.78,1190.65 410.78,1190.65 412.79,1190.66 414.79,1190.66 416.80,1190.67 418.80,1190.67 420.80,1190.68 422.81,1190.68 424.81,1190.69 426.82,1190.69 428.82,1190.70 430.82,1190.70 432.83,1190.70 434.83,1190.71 436.84,1190.71 438.84,1190.72 440.84,1190.72 442.85,1190.72 444.85,1190.73 446.86,1190.73 448.86,1190.73 450.86,1190.74 452.87,1190.74 454.87,1190.74 456.88,1190.74 458.88,1190.75 460.88,1190.75 462.89,1190.75 464.89,1190.75 466.90,1190.76 468.90,1190.76"/>
<polyline stroke="#482878" points="280.52,1190.06 282.53,1190.07 284.53,1190.07 286.54,1190.08 288.54,1190.09 290.54,1190.09 292.55,1190.10 294.55,1190.11 296.56,1190.12 298.56,1190.13 300.56,1190.14 302.57,1190.15 304.57,1190.16 306.58,1190.17 308.58,1190.18 310.58,1190.19 312.59,1190.20 314.59,1190.21 316.60,1190.22 318.60,1190.23 320.60,1190.24 322.61,1190.25 324.61,1190.26 326.62,1190.27 328.62,1190.28 330.62,1190.29 332.63,1190.30 334.63,1190.31 336.64,1190.32 338.64,1190.33 340.64,1190.34 342.65,1190.35 344.65,1190.36 346.66,1190.37 348.66,1190.38 350.66,1190.39 352.67,1190.40 354.67,1190.41 356.68,1190.42 358.68,1190.43 360.68,1190.44 362.69,1190.45 364.69,1190.45 366.70,1190.46 368.70,1190.47 370.70,1190.48 372.71,1190.49 374.71,1190.50 376.72,1190.51 378.72,1190.52 380.72,1190.53 382.73,1190.53 384.73,1190.54 386.74,1190.55 388.74,1190.56 390.74,1190.57 392.75,1190.57 394.75,1190.58 396.76,1190.58 398.76,1190.59 400.76,1190.59 402.77,1190.60 404.77,1190.60 406.78,1190.61 408.78,1190.62 410.78,1190.62 412.79,1190.63 414.79,1190.63 416.80,1190.64 418.80,1190.64 420.80,1190.65 422.81,1190.65 424.81,1190.66 426.82,1190.66 428.82,1190.67 430.82,1190.67 432.83,1190.67 434.83,1190.68 436.84,1190.68 438.84,1190.69 440.84,1190.69 442.85,1190.69 444.85,1190.70 446.86,1190.70 448.86,1190.70 450.86,1190.71 452.87,1190.71 454.87,1190.71 456.88,1190.72 458.88,1190.72 460.88,1190.72 462.89,1190.72 464.89,1190.73 466.90,1190.73 468.90,1190.73 470.90,1190.73 472.91,1190.73 474.91,1190.74 476.92,1190.74 478.92,1190.74 480.92,1190.74"/>
<polyline stroke="#3e4989" points="290.54,1190.09 292.55,1190.09 294.55,1190.10 296.56,1190.11 298.56,1190.12 300.56,1190.13 302.57,1190.14 304.57,1190.15 306.58,1190.16 308.58,1190.17 310.58,1190.18 312.59,1190.19 314.59,1190.20 316.60,1190.21 318.60,1190.22 320.60,1190.23 322.61,1190.24 324.61,1190.25 326.62,1190.26 328.62,1190.27 330.62,1190.28 332.63,1190.29 334.63,1190.29 336.64,1190.30 338.64,1190.31 340.64,1190.32 342.65,1190.33 344.65,1190.34 346.66,1190.35 348.66,1190.36 350.66,1190.37 352.67,1190.38 354.67,1190.39 356.68,1190.40 358.68,1190.40 360.68,1190.41 362.69,1190.42 364.69,1190.43 366.70,1190.44 368.70,1190.45 370.70,1190.46 372.71,1190.47 374.71,1190.47 376.72,1190.48 378.72,1190.49 380.72,1190.50 382.73,1190.51 384.73,1190.51 386.74,1190.52 388.74,1190.53 390.74,1190.54 392.75,1190.54 394.75,1190.55 396.76,1190.55 398.76,1190.56 400.76,1190.56 402.77,1190.57 404.77,1190.57 406.78,1190.58 408.78,1190.59 410.78,1190.59 412.79,1190.60 414.79,1190.60 416.80,1190.61 418.80,1190.61 420.80,1190.62 422.81,1190.62 424.81,1190.63 426.82,1190.63 428.82,1190.64 430.82,1190.64 432.83,1190.64 434.83,1190.65 436.84,1190.65 438.84,1190.66 440.84,1190.66 442.85,1190.66 444.85,1190.67 446.86,1190.67 448.86,1190.67 450.86,1190.68 452.87,1190.68 454.87,1190.68 456.88,1190.69 458.88,1190.69 460.88,1190.69 462.89,1190.69 464.89,1190.70 466.90,1190.70 468.90,1190.70 470.90,1190.70 472.91,1190.70 474.91,1190.71 476.92,1190.71 478.92,1190.71 480.92,1190.71 482.93,1190.71 484.93,1190.72 486.94,1190.72 488.94,1190.72 490.94,1190.72 492.95,1190.72"/>
<polyline stroke="#31688e" points="304.57,1190.14 306.58,1190.15 308.58,1190.16 310.58,1190.17 312.59,1190.18 314.59,1190.19 316.60,1190.20 318.60,1190.21 320.60,1190.22 322.61,1190.23 324.61,1190.23 326.62,1190.24 328.62,1190.25 330.62,1190.26 332.63,1190.27 334.63,1190.28 336.64,1190.29 338.64,1190.30 340.64,1190.30 342.65,1190.31 344.65,1190.32 346.66,1190.33 348.66,1190.34 350.66,1190.35 352.67,1190.36 354.67,1190.36 356.68,1190.37 358.68,1190.38 360.68,1190.39 362.69,1190.40 364.69,1190.41 366.70,1190.42 368.70,1190.42 370.70,1190.43 372.71,1190.44 374.71,1190.45 376.72,1190.46 378.72,1190.46 380.72,1190.47 382.73,1190.48 384.73,1190.49 386.74,1190.49 388.74,1190.50 390.74,1190.51 392.75,1190.51 394.75,1190.52 396.76,1190.52 398.76,1190.53 400.76,1190.53 402.77,1190.54 404.77,1190.55 406.78,1190.55 408.78,1190.56 410.78,1190.56 412.79,1190.57 414.79,1190.57 416.80,1190.58 418.80,1190.58 420.80,1190.59 422.81,1190.59 424.81,1190.60 426.82,1190.60 428.82,1190.61 430.82,1190.61 432.83,1190.62 434.83,1190.62 436.84,1190.62 438.84,1190.63 440.84,1190.63 442.85,1190.63 444.85,1190.64 446.86,1190.64 448.86,1190.64 450.86,1190.65 452.87,1190.65 454.87,1190.65 456.88,1190.66 458.88,1190.66 460.88,1190.66 462.89,1190.66 464.89,1190.67 466.90,1190.67 468.90,1190.67 470.90,1190.67 472.91,1190.67 474.91,1190.68 476.92,1190.68 478.92,1190.68 480.92,1190.68 482.93,1190.69 484.93,1190.69 486.94,1190.69 488.94,1190.69 490.94,1190.69 492.95,1190.69 494.95,1190.70 496.96,1190.70 498.96,1190.70 500.96,1190.70 502.97,1190.70 504.97,1190.70 506.98,1190.71 508.98,1190.71"/>
<polyline stroke="#26828e" points="316.60,1190.19 318.60,1190.20 320.60,1190.20 322.61,1190.21 324.61,1190.22 326.62,1190.23 328.62,1190.24 330.62,1190.25 332.63,1190.25 334.63,1190.26 336.64,1190.27 338.64,1190.28 340.64,1190.29 342.65,1190.29 344.65,1190.30 346.66,1190.31 348.66,1190.32 350.66,1190.33 352.67,1190.34 354.67,1190.34 356.68,1190.35 358.68,1190.36 360.68,1190.37 362.69,1190.38 364.69,1190.38 366.70,1190.39 368.70,1190.40 370.70,1190.41 372.71,1190.41 374.71,1190.42 376.72,1190.43 378.72,1190.44 380.72,1190.44 382.73,1190.45 384.73,1190.46 386.74,1190.46 388.74,1190.47 390.74,1190.48 392.75,1190.48 394.75,1190.49 396.76,1190.49 398.76,1190.50 400.76,1190.50 402.77,1190.51 404.77,1190.52 406.78,1190.52 408.78,1190.53 410.78,1190.53 412.79,1190.54 414.79,1190.54 416.80,1190.55 418.80,1190.55 420.80,1190.56 422.81,1190.56 424.81,1190.57 426.82,1190.57 428.82,1190.58 430.82,1190.58 432.83,1190.59 434.83,1190.59 436.84,1190.59 438.84,1190.60 440.84,1190.60 442.85,1190.60 444.85,1190.61 446.86,1190.61 448.86,1190.61 450.86,1190.62 452.87,1190.62 454.87,1190.62 456.88,1190.63 458.88,1190.63 460.88,1190.63 462.89,1190.63 464.89,1190.64 466.90,1190.64 468.90,1190.64 470.90,1190.64 472.91,1190.65 474.91,1190.65 476.92,1190.65 478.92,1190.65 480.92,1190.65 482.93,1190.66 484.93,1190.66 486.94,1190.66 488.94,1190.66 490.94,1190.66 492.95,1190.66 494.95,1190.67 496.96,1190.67 498.96,1190.67 500.96,1190.67 502.97,1190.67 504.97,1190.67 506.98,1190.68 508.98,1190.68 510.98,1190.68 512.99,1190.68 514.99,1190.68 517.00,1190.68 519.00,1190.69 521.00,1190.69"/>
<polyline stroke="#1f9e89" points="328.62,1190.22 330.62,1190.23 332.63,1190.24 334.63,1190.25 336.64,1190.25 338.64,1190.26 340.64,1190.27 342.65,1190.28 344.65,1190.28 346.66,1190.29 348.66,1190.30 350.66,1190.31 352.67,1190.31 354.67,1190.32 356.68,1190.33 358.68,1190.34 360.68,1190.34 362.69,1190.35 364.69,1190.36 366.70,1190.37 368.70,1190.37 370.70,1190.38 372.71,1190.39 374.71,1190.39 376.72,1190.40 378.72,1190.41 380.72,1190.42 382.73,1190.42 384.73,1190.43 386.74,1190.43 388.74,1190.44 390.74,1190.45 392.75,1190.45 394.75,1190.46 396.76,1190.46 398.76,1190.47 400.76,1190.47 402.77,1190.48 404.77,1190.49 406.78,1190.49 408.78,1190.50 410.78,1190.50 412.79,1190.51 414.79,1190.51 416.80,1190.52 418.80,1190.52 420.80,1190.53 422.81,1190.53 424.81,1190.54 426.82,1190.54 428.82,1190.55 430.82,1190.55 432.83,1190.56 434.83,1190.56 436.84,1190.56 438.84,1190.57 440.84,1190.57 442.85,1190.58 444.85,1190.58 446.86,1190.58 448.86,1190.58 450.86,1190.59 452.87,1190.59 454.87,1190.59 456.88,1190.60 458.88,1190.60 460.88,1190.60 462.89,1190.60 464.89,1190.61 466.90,1190.61 468.90,1190.61 470.90,1190.61 472.91,1190.62 474.91,1190.62 476.92,1190.62 478.92,1190.62 480.92,1190.62 482.93,1190.63 484.93,1190.63 486.94,1190.63 488.94,1190.63 490.94,1190.63 492.95,1190.63 494.95,1190.64 496.96,1190.64 498.96,1190.64 500.96,1190.64 502.97,1190.64 504.97,1190.65 506.98,1190.65 508.98,1190.65 510.98,1190.65 512.99,1190.65 514.99,1190.65 517.00,1190.65 519.00,1190.66 521.00,1190.66 523.01,1190.66 525.01,1190.66 527.02,1190.66 529.02,1190.66 531.02,1190.67 533.03,1190.67"/>
<polyline stroke="#35b779" points="340.64,1190.25 342.65,1190.26 344.65,1190.27 346.66,1190.27 348.66,1190.28 350.66,1190.29 352.67,1190.29 354.67,1190.30 356.68,1190.31 358.68,1190.32 360.68,1190.32 362.69,1190.33 364.69,1190.34 366.70,1190.34 368.70,1190.35 370.70,1190.36 372.71,1190.36 374.71,1190.37 376.72,1190.38 378.72,1190.38 380.72,1190.39 382.73,1190.39 384.73,1190.40 386.74,1190.41 388.74,1190.41 390.74,1190.42 392.75,1190.42 394.75,1190.43 396.76,1190.43 398.76,1190.44 400.76,1190.44 402.77,1190.45 404.77,1190.46 406.78,1190.46 408.78,1190.47 410.78,1190.47 412.79,1190.48 414.79,1190.48 416.80,1190.49 418.80,1190.49 420.80,1190.50 422.81,1190.50 424.81,1190.51 426.82,1190.51 428.82,1190.52 430.82,1190.52 432.83,1190.53 434.83,1190.53 436.84,1190.53 438.84,1190.54 440.84,1190.54 442.85,1190.55 444.85,1190.55 446.86,1190.55 448.86,1190.56 450.86,1190.56 452.87,1190.56 454.87,1190.56 456.88,1190.57 458.88,1190.57 460.88,1190.57 462.89,1190.57 464.89,1190.58 466.90,1190.58 468.90,1190.58 470.90,1190.58 472.91,1190.59 474.91,1190.59 476.92,1190.59 478.92,1190.59 480.92,1190.59 482.93,1190.60 484.93,1190.60 486.94,1190.60 488.94,1190.60 490.94,1190.60 492.95,1190.61 494.95,1190.61 496.96,1190.61 498.96,1190.61 500.96,1190.61 502.97,1190.61 504.97,1190.62 506.98,1190.62 508.98,1190.62 510.98,1190.62 512.99,1190.62 514.99,1190.62 517.00,1190.63 519.00,1190.63 521.00,1190.63 523.01,1190.63 525.01,1190.63 527.02,1190.63 529.02,1190.63 531.02,1190.64 533.03,1190.64 535.03,1190.64 537.04,1190.64 539.04,1190.64 541.04,1190.64 543.05,1190.64 545.05,1190.64 547.06,1190.64"/>
</g>
<path fill="none" stroke="#ff0000" stroke-width="8.6" stroke-linecap="butt" stroke-linejoin="miter" d="M346.2 945.3H391.1M431.9 945.3H477.2M517.0 945.3H562.3M602.2 945.3H647.5M687.4 945.3H732.6M772.5 945.3H817.8M857.6 945.3H902.9M942.8 945.3H988.1M1028.6 945.3H1052.3M1048.0 941.0V969.8M1048.0 1010.4V1055.8M1048.0 1095.8V1141.0M1048.0 1181.5V1206.3M1023.5 1202.0H1052.3M937.7 1202.0H983.0M852.6 1202.0H897.9M767.6 1202.0H812.9M682.5 1202.0H727.8M597.4 1202.0H642.7M512.4 1202.0H557.7M427.3 1202.0H472.6M346.2 1202.0H387.0M350.5 1111.5V1156.8M350.5 1026.7V1072.0M350.5 941.0V986.0"/>
<g stroke="#000" stroke-width="8" fill="none">
<rect x="268.5" y="47.6" width="1623.5" height="1217.4"/>
<line x1="468.9" y1="1265.0" x2="468.9" y2="1243.0"/>
<line x1="669.3" y1="1265.0" x2="669.3" y2="1243.0"/>
<line x1="869.7" y1="1265.0" x2="869.7" y2="1243.0"/>
<line x1="1070.1" y1="1265.0" x2="1070.1" y2="1243.0"/>
<line x1="1270.5" y1="1265.0" x2="1270.5" y2="1243.0"/>
<line x1="1470.9" y1="1265.0" x2="1470.9" y2="1243.0"/>
<line x1="1671.3" y1="1265.0" x2="1671.3" y2="1243.0"/>
<line x1="1871.7" y1="1265.0" x2="1871.7" y2="1243.0"/>
<line x1="268.5" y1="1102.7" x2="290.5" y2="1102.7"/>
<line x1="268.5" y1="940.5" x2="290.5" y2="940.5"/>
<line x1="268.5" y1="778.2" x2="290.5" y2="778.2"/>
<line x1="268.5" y1="616.0" x2="290.5" y2="616.0"/>
<line x1="268.5" y1="453.7" x2="290.5" y2="453.7"/>
<line x1="268.5" y1="291.4" x2="290.5" y2="291.4"/>
<line x1="268.5" y1="129.2" x2="290.5" y2="129.2"/>
</g>
<text class="tk" text-anchor="middle" transform="translate(268.5 1366.0) scale(0.975 1.0)">0</text>
<text class="tk" text-anchor="middle" transform="translate(468.9 1366.0) scale(0.975 1.0)">1</text>
<text class="tk" text-anchor="middle" transform="translate(669.3 1366.0) scale(0.975 1.0)">2</text>
<text class="tk" text-anchor="middle" transform="translate(869.7 1366.0) scale(0.975 1.0)">3</text>
<text class="tk" text-anchor="middle" transform="translate(1070.1 1366.0) scale(0.975 1.0)">4</text>
<text class="tk" text-anchor="middle" transform="translate(1270.5 1366.0) scale(0.975 1.0)">5</text>
<text class="tk" text-anchor="middle" transform="translate(1470.9 1366.0) scale(0.975 1.0)">6</text>
<text class="tk" text-anchor="middle" transform="translate(1671.3 1366.0) scale(0.975 1.0)">7</text>
<text class="tk" text-anchor="middle" transform="translate(1871.7 1366.0) scale(0.975 1.0)">8</text>
<text class="tk" text-anchor="end" transform="translate(244.4 1295.0) scale(0.975 1.0)">0</text>
<text class="tk" text-anchor="end" transform="translate(244.4 1132.74) scale(0.975 1.0)">10</text>
<text class="tk" text-anchor="end" transform="translate(244.4 970.48) scale(0.975 1.0)">20</text>
<text class="tk" text-anchor="end" transform="translate(244.4 808.22) scale(0.975 1.0)">30</text>
<text class="tk" text-anchor="end" transform="translate(244.4 645.96) scale(0.975 1.0)">40</text>
<text class="tk" text-anchor="end" transform="translate(244.4 483.7) scale(0.975 1.0)">50</text>
<text class="tk" text-anchor="end" transform="translate(244.4 321.44) scale(0.975 1.0)">60</text>
<text class="tk" text-anchor="end" transform="translate(244.4 159.18) scale(0.975 1.0)">70</text>
<text class="al" text-anchor="middle" transform="translate(1080.3 1527.5) scale(0.977 1.0)">Depth (μm)</text>
<text class="al" text-anchor="middle" transform="translate(111.7 656.7) rotate(-90) scale(0.977 1.0)">Corrosion rate (μm/a)</text>
<g stroke-width="8" stroke-linecap="round" fill="none">
<line x1="1627.5" y1="874.4" x2="1761" y2="874.4" stroke="#440154"/>
<line x1="1627.5" y1="927.5" x2="1761" y2="927.5" stroke="#482878"/>
<line x1="1627.5" y1="980.7" x2="1761" y2="980.7" stroke="#3e4989"/>
<line x1="1627.5" y1="1033.8" x2="1761" y2="1033.8" stroke="#31688e"/>
<line x1="1627.5" y1="1087.0" x2="1761" y2="1087.0" stroke="#26828e"/>
<line x1="1627.5" y1="1140.2" x2="1761" y2="1140.2" stroke="#1f9e89"/>
<line x1="1627.5" y1="1193.3" x2="1761" y2="1193.3" stroke="#35b779"/>
</g>
<text class="lg" text-anchor="end" transform="translate(1866.0 895.6)">30d</text>
<text class="lg" text-anchor="end" transform="translate(1866.0 948.75)">25d</text>
<text class="lg" text-anchor="end" transform="translate(1866.0 1001.9)">20d</text>
<text class="lg" text-anchor="end" transform="translate(1866.0 1055.05)">15d</text>
<text class="lg" text-anchor="end" transform="translate(1866.0 1108.2)">10d</text>
<text class="lg" text-anchor="end" transform="translate(1866.0 1161.35)">5d</text>
<text class="lg" text-anchor="end" transform="translate(1866.0 1214.5)">1d</text>
<g stroke="#ff0000" stroke-width="8" fill="none" stroke-linejoin="miter">
<path d="M1566 355 H1584 V1085 H1566"/>
<path d="M1584 720 H1604"/>
</g>
<text class="rt" text-anchor="start" transform="translate(1612.3 746.5) scale(1.005 1.0)">1:5</text>
<line x1="636.1" y1="931.1" x2="678.7" y2="768.5" stroke="#ff0000" stroke-width="6.5"/>
<polygon points="692.8,708 663.4,764.3 694,772.6" fill="#ff0000"/>
<g filter="url(#soft2)">
<g fill="none" stroke-width="2.8" stroke-linecap="butt" stroke-linejoin="miter">
<polyline stroke="#440154" points="440.50,490.10 442.07,490.19 443.64,490.29 445.20,490.41 446.77,490.53 448.34,490.66 449.91,490.80 451.48,490.94 453.04,491.09 454.61,491.24 456.18,491.39 457.75,491.56 459.32,491.74 460.88,491.95 462.45,492.17 464.02,492.41 465.59,492.66 467.16,492.92 468.72,493.19 470.29,493.46 471.86,493.73 473.43,494.01 475.00,494.29 476.56,494.56 478.13,494.83 479.70,495.10 481.27,495.35 482.84,495.59 484.40,495.83 485.97,496.08 487.54,496.32 489.11,496.56 490.68,496.81 492.24,497.05 493.81,497.30 495.38,497.54 496.95,497.79 498.52,498.03 500.08,498.27 501.65,498.52 503.22,498.76 504.79,499.00 506.36,499.24 507.92,499.49 509.49,499.72 511.06,499.96 512.63,500.20 514.20,500.44 515.76,500.67 517.33,500.90 518.90,501.13 520.47,501.36 522.04,501.59 523.60,501.81 525.17,502.04 526.74,502.26 528.31,502.47 529.88,502.69 531.44,502.90 533.01,503.11 534.58,503.32 536.15,503.45 537.72,503.59 539.28,503.72 540.85,503.86 542.42,503.99 543.99,504.12 545.56,504.26 547.12,504.39 548.69,504.52 550.26,504.65 551.83,504.78 553.40,504.91 554.96,505.04 556.53,505.16 558.10,505.28 559.67,505.40 561.24,505.52 562.80,505.63 564.37,505.75 565.94,505.86 567.51,505.96 569.08,506.07 570.64,506.17 572.21,506.26 573.78,506.36 575.35,506.45 576.92,506.53 578.48,506.61 580.05,506.69 581.62,506.76 583.19,506.83 584.76,506.90 586.32,506.96 587.89,507.03 589.46,507.09 591.03,507.15 592.60,507.21 594.16,507.27 595.73,507.33 597.30,507.38"/>
<polyline stroke="#482878" points="440.50,490.10 442.07,490.18 443.64,490.27 445.20,490.37 446.77,490.48 448.34,490.60 449.91,490.72 451.48,490.86 453.04,490.99 454.61,491.13 456.18,491.27 457.75,491.43 459.32,491.60 460.88,491.80 462.45,492.01 464.02,492.23 465.59,492.47 467.16,492.72 468.72,492.97 470.29,493.23 471.86,493.50 473.43,493.76 475.00,494.03 476.56,494.29 478.13,494.55 479.70,494.80 481.27,495.04 482.84,495.27 484.40,495.50 485.97,495.73 487.54,495.96 489.11,496.20 490.68,496.43 492.24,496.66 493.81,496.89 495.38,497.13 496.95,497.36 498.52,497.59 500.08,497.82 501.65,498.06 503.22,498.29 504.79,498.52 506.36,498.75 507.92,498.98 509.49,499.20 511.06,499.43 512.63,499.66 514.20,499.88 515.76,500.10 517.33,500.32 518.90,500.54 520.47,500.76 522.04,500.97 523.60,501.19 525.17,501.40 526.74,501.60 528.31,501.81 529.88,502.01 531.44,502.21 533.01,502.41 534.58,502.61 536.15,502.74 537.72,502.88 539.28,503.01 540.85,503.15 542.42,503.28 543.99,503.41 545.56,503.55 547.12,503.68 548.69,503.81 550.26,503.94 551.83,504.07 553.40,504.20 554.96,504.32 556.53,504.45 558.10,504.57 559.67,504.69 561.24,504.81 562.80,504.92 564.37,505.04 565.94,505.15 567.51,505.25 569.08,505.36 570.64,505.46 572.21,505.55 573.78,505.65 575.35,505.74 576.92,505.82 578.48,505.90 580.05,505.98 581.62,506.05 583.19,506.12 584.76,506.19 586.32,506.25 587.89,506.32 589.46,506.38 591.03,506.44 592.60,506.50 594.16,506.56 595.73,506.62 597.30,506.67 598.87,506.73 600.44,506.78 602.00,506.83 603.57,506.88 605.14,506.93 606.71,506.98"/>
<polyline stroke="#3e4989" points="440.50,490.10 442.07,490.17 443.64,490.25 445.20,490.33 446.77,490.43 448.34,490.54 449.91,490.65 451.48,490.77 453.04,490.90 454.61,491.02 456.18,491.15 457.75,491.30 459.32,491.46 460.88,491.64 462.45,491.84 464.02,492.05 465.59,492.28 467.16,492.52 468.72,492.76 470.29,493.01 471.86,493.26 473.43,493.52 475.00,493.77 476.56,494.02 478.13,494.26 479.70,494.50 481.27,494.73 482.84,494.95 484.40,495.17 485.97,495.39 487.54,495.61 489.11,495.83 490.68,496.05 492.24,496.27 493.81,496.49 495.38,496.71 496.95,496.93 498.52,497.15 500.08,497.37 501.65,497.59 503.22,497.81 504.79,498.03 506.36,498.25 507.92,498.47 509.49,498.68 511.06,498.90 512.63,499.11 514.20,499.32 515.76,499.53 517.33,499.74 518.90,499.95 520.47,500.15 522.04,500.36 523.60,500.56 525.17,500.76 526.74,500.95 528.31,501.15 529.88,501.34 531.44,501.53 533.01,501.71 534.58,501.89 536.15,502.03 537.72,502.16 539.28,502.30 540.85,502.43 542.42,502.57 543.99,502.70 545.56,502.84 547.12,502.97 548.69,503.10 550.26,503.23 551.83,503.36 553.40,503.49 554.96,503.61 556.53,503.74 558.10,503.86 559.67,503.98 561.24,504.10 562.80,504.21 564.37,504.33 565.94,504.44 567.51,504.54 569.08,504.65 570.64,504.75 572.21,504.84 573.78,504.94 575.35,505.03 576.92,505.11 578.48,505.19 580.05,505.27 581.62,505.34 583.19,505.41 584.76,505.48 586.32,505.54 587.89,505.61 589.46,505.67 591.03,505.73 592.60,505.79 594.16,505.85 595.73,505.91 597.30,505.96 598.87,506.02 600.44,506.07 602.00,506.12 603.57,506.17 605.14,506.22 606.71,506.27 608.28,506.32 609.84,506.36 611.41,506.41 612.98,506.45 614.55,506.50 616.12,506.54 616.12,506.54"/>
<polyline stroke="#31688e" points="440.50,490.10 442.07,490.16 443.64,490.22 445.20,490.30 446.77,490.39 448.34,490.48 449.91,490.58 451.48,490.69 453.04,490.80 454.61,490.92 456.18,491.04 457.75,491.17 459.32,491.32 460.88,491.49 462.45,491.68 464.02,491.88 465.59,492.09 467.16,492.31 468.72,492.55 470.29,492.78 471.86,493.02 473.43,493.27 475.00,493.51 476.56,493.75 478.13,493.98 479.70,494.21 481.27,494.42 482.84,494.63 484.40,494.84 485.97,495.05 487.54,495.25 489.11,495.46 490.68,495.67 492.24,495.88 493.81,496.09 495.38,496.30 496.95,496.51 498.52,496.72 500.08,496.92 501.65,497.13 503.22,497.34 504.79,497.55 506.36,497.75 507.92,497.96 509.49,498.16 511.06,498.36 512.63,498.57 514.20,498.77 515.76,498.96 517.33,499.16 518.90,499.36 520.47,499.55 522.04,499.74 523.60,499.93 525.17,500.12 526.74,500.30 528.31,500.48 529.88,500.66 531.44,500.84 533.01,501.01 534.58,501.18 536.15,501.32 537.72,501.45 539.28,501.59 540.85,501.72 542.42,501.86 543.99,501.99 545.56,502.13 547.12,502.26 548.69,502.39 550.26,502.52 551.83,502.65 553.40,502.78 554.96,502.90 556.53,503.03 558.10,503.15 559.67,503.27 561.24,503.39 562.80,503.50 564.37,503.62 565.94,503.73 567.51,503.83 569.08,503.94 570.64,504.04 572.21,504.13 573.78,504.23 575.35,504.32 576.92,504.40 578.48,504.48 580.05,504.56 581.62,504.63 583.19,504.70 584.76,504.77 586.32,504.83 587.89,504.90 589.46,504.96 591.03,505.02 592.60,505.08 594.16,505.14 595.73,505.20 597.30,505.25 598.87,505.31 600.44,505.36 602.00,505.41 603.57,505.46 605.14,505.51 606.71,505.56 608.28,505.60 609.84,505.65 611.41,505.70 612.98,505.74 614.55,505.78 616.12,505.83 617.68,505.87 619.25,505.91 620.82,505.95 622.39,505.99 623.96,506.03 625.52,506.07 627.09,506.11 628.66,506.15"/>
<polyline stroke="#26828e" points="440.50,490.10 442.07,490.14 443.64,490.20 445.20,490.26 446.77,490.34 448.34,490.42 449.91,490.51 451.48,490.61 453.04,490.71 454.61,490.81 456.18,490.92 457.75,491.04 459.32,491.18 460.88,491.33 462.45,491.51 464.02,491.70 465.59,491.90 467.16,492.11 468.72,492.33 470.29,492.56 471.86,492.79 473.43,493.02 475.00,493.25 476.56,493.47 478.13,493.70 479.70,493.91 481.27,494.12 482.84,494.31 484.40,494.51 485.97,494.70 487.54,494.90 489.11,495.10 490.68,495.29 492.24,495.49 493.81,495.69 495.38,495.88 496.95,496.08 498.52,496.28 500.08,496.47 501.65,496.67 503.22,496.87 504.79,497.06 506.36,497.26 507.92,497.45 509.49,497.64 511.06,497.83 512.63,498.02 514.20,498.21 515.76,498.40 517.33,498.58 518.90,498.76 520.47,498.95 522.04,499.13 523.60,499.30 525.17,499.48 526.74,499.65 528.31,499.82 529.88,499.99 531.44,500.15 533.01,500.31 534.58,500.47 536.15,500.61 537.72,500.74 539.28,500.88 540.85,501.01 542.42,501.15 543.99,501.28 545.56,501.42 547.12,501.55 548.69,501.68 550.26,501.81 551.83,501.94 553.40,502.07 554.96,502.19 556.53,502.32 558.10,502.44 559.67,502.56 561.24,502.68 562.80,502.79 564.37,502.91 565.94,503.02 567.51,503.12 569.08,503.23 570.64,503.33 572.21,503.42 573.78,503.52 575.35,503.61 576.92,503.69 578.48,503.77 580.05,503.85 581.62,503.92 583.19,503.99 584.76,504.06 586.32,504.12 587.89,504.19 589.46,504.25 591.03,504.31 592.60,504.37 594.16,504.43 595.73,504.49 597.30,504.54 598.87,504.59 600.44,504.65 602.00,504.70 603.57,504.75 605.14,504.80 606.71,504.85 608.28,504.89 609.84,504.94 611.41,504.99 612.98,505.03 614.55,505.07 616.12,505.12 617.68,505.16 619.25,505.20 620.82,505.24 622.39,505.28 623.96,505.32 625.52,505.36 627.09,505.40 628.66,505.44 630.23,505.48 631.80,505.52 633.36,505.56 634.93,505.60 636.50,505.63 638.07,505.67"/>
<polyline stroke="#1f9e89" points="440.50,490.10 442.07,490.13 443.64,490.17 445.20,490.23 446.77,490.29 448.34,490.36 449.91,490.44 451.48,490.52 453.04,490.61 454.61,490.70 456.18,490.80 457.75,490.91 459.32,491.03 460.88,491.18 462.45,491.34 464.02,491.52 465.59,491.71 467.16,491.91 468.72,492.12 470.29,492.33 471.86,492.55 473.43,492.77 475.00,492.99 476.56,493.20 478.13,493.41 479.70,493.62 481.27,493.81 482.84,493.99 484.40,494.18 485.97,494.36 487.54,494.54 489.11,494.73 490.68,494.91 492.24,495.10 493.81,495.28 495.38,495.47 496.95,495.65 498.52,495.84 500.08,496.02 501.65,496.21 503.22,496.39 504.79,496.58 506.36,496.76 507.92,496.94 509.49,497.12 511.06,497.30 512.63,497.48 514.20,497.65 515.76,497.83 517.33,498.00 518.90,498.17 520.47,498.34 522.04,498.51 523.60,498.68 525.17,498.84 526.74,499.00 528.31,499.16 529.88,499.31 531.44,499.47 533.01,499.62 534.58,499.76 536.15,499.90 537.72,500.03 539.28,500.17 540.85,500.30 542.42,500.44 543.99,500.57 545.56,500.71 547.12,500.84 548.69,500.97 550.26,501.10 551.83,501.23 553.40,501.36 554.96,501.48 556.53,501.61 558.10,501.73 559.67,501.85 561.24,501.97 562.80,502.08 564.37,502.20 565.94,502.30 567.51,502.41 569.08,502.52 570.64,502.62 572.21,502.71 573.78,502.81 575.35,502.89 576.92,502.98 578.48,503.06 580.05,503.14 581.62,503.21 583.19,503.28 584.76,503.35 586.32,503.41 587.89,503.48 589.46,503.54 591.03,503.60 592.60,503.66 594.16,503.72 595.73,503.77 597.30,503.83 598.87,503.88 600.44,503.94 602.00,503.99 603.57,504.04 605.14,504.09 606.71,504.14 608.28,504.18 609.84,504.23 611.41,504.28 612.98,504.32 614.55,504.36 616.12,504.41 617.68,504.45 619.25,504.49 620.82,504.53 622.39,504.57 623.96,504.61 625.52,504.65 627.09,504.69 628.66,504.73 630.23,504.77 631.80,504.81 633.36,504.85 634.93,504.88 636.50,504.92 638.07,504.96 639.64,505.00 641.20,505.04 642.77,505.07 644.34,505.11 645.91,505.14 647.48,505.17"/>
<polyline stroke="#35b779" points="440.50,490.10 442.07,490.12 443.64,490.15 445.20,490.19 446.77,490.24 448.34,490.30 449.91,490.37 451.48,490.44 453.04,490.52 454.61,490.60 456.18,490.68 457.75,490.78 459.32,490.89 460.88,491.03 462.45,491.18 464.02,491.34 465.59,491.52 467.16,491.71 468.72,491.91 470.29,492.11 471.86,492.31 473.43,492.52 475.00,492.73 476.56,492.93 478.13,493.13 479.70,493.32 481.27,493.50 482.84,493.67 484.40,493.84 485.97,494.02 487.54,494.19 489.11,494.36 490.68,494.53 492.24,494.71 493.81,494.88 495.38,495.06 496.95,495.23 498.52,495.40 500.08,495.57 501.65,495.75 503.22,495.92 504.79,496.09 506.36,496.26 507.92,496.43 509.49,496.60 511.06,496.77 512.63,496.93 514.20,497.10 515.76,497.26 517.33,497.42 518.90,497.58 520.47,497.74 522.04,497.89 523.60,498.05 525.17,498.20 526.74,498.35 528.31,498.49 529.88,498.64 531.44,498.78 533.01,498.92 534.58,499.05 536.15,499.19 537.72,499.32 539.28,499.46 540.85,499.59 542.42,499.73 543.99,499.86 545.56,500.00 547.12,500.13 548.69,500.26 550.26,500.39 551.83,500.52 553.40,500.65 554.96,500.77 556.53,500.90 558.10,501.02 559.67,501.14 561.24,501.26 562.80,501.37 564.37,501.48 565.94,501.59 567.51,501.70 569.08,501.80 570.64,501.90 572.21,502.00 573.78,502.09 575.35,502.18 576.92,502.27 578.48,502.35 580.05,502.43 581.62,502.50 583.19,502.57 584.76,502.64 586.32,502.70 587.89,502.77 589.46,502.83 591.03,502.89 592.60,502.95 594.16,503.01 595.73,503.06 597.30,503.12 598.87,503.17 600.44,503.23 602.00,503.28 603.57,503.33 605.14,503.38 606.71,503.43 608.28,503.47 609.84,503.52 611.41,503.57 612.98,503.61 614.55,503.65 616.12,503.70 617.68,503.74 619.25,503.78 620.82,503.82 622.39,503.86 623.96,503.90 625.52,503.94 627.09,503.98 628.66,504.02 630.23,504.06 631.80,504.10 633.36,504.14 634.93,504.17 636.50,504.21 638.07,504.25 639.64,504.29 641.20,504.33 642.77,504.36 644.34,504.40 645.91,504.43 647.48,504.46 649.04,504.50 650.61,504.52 652.18,504.55 653.75,504.57 655.32,504.60 656.88,504.62 658.45,504.63"/>
<polyline stroke="#440154" points="500.24,498.30 500.24,474.83 501.81,473.02 503.38,471.21 504.94,469.41 506.51,467.61 508.08,465.82 509.65,464.03 511.22,462.25 512.78,460.47 514.35,458.70 515.92,456.92 517.49,455.16 519.06,453.40 520.62,451.64 522.19,449.88 523.76,448.14 525.33,446.39 526.90,444.65 528.46,442.91 530.03,441.18 531.60,439.45 533.17,437.73 534.74,436.01 536.30,434.30 537.87,432.59 539.44,430.88 541.01,429.18 542.58,427.48 544.14,425.79 545.71,424.10 547.28,422.42 548.85,420.74 550.42,419.06 551.98,417.39 553.55,415.72 555.12,414.06 556.69,412.40 558.26,410.75 559.82,409.10 561.39,407.45 562.96,405.81 564.53,404.18 566.10,402.54 567.66,400.92 569.23,399.29 570.80,397.67 572.37,396.06 573.94,394.45 575.50,392.84 577.07,391.24 578.64,389.64 580.21,388.05 581.78,386.46 583.34,384.87 584.91,383.29 586.48,381.71 588.05,380.14 589.62,378.58 591.18,377.01 592.75,375.45 594.32,373.90 595.89,372.35 597.46,370.80 599.02,369.26 600.59,367.72 602.16,366.19 603.73,364.66 605.30,363.14 606.86,361.62 608.43,360.10 610.00,358.59 611.57,357.08 613.14,355.58 614.70,354.09 616.27,352.59 617.84,351.11 619.41,349.62 620.98,348.15 622.54,346.67 624.11,345.20 625.68,343.74 627.25,342.28 628.82,340.83 630.38,339.38 631.95,337.94 633.52,336.50 635.09,335.06 636.66,333.64 638.22,332.21 639.79,330.80 641.36,329.38 642.93,327.98 644.50,326.57 646.06,325.18 647.63,323.79 649.20,322.40 650.77,321.02 652.34,319.65 653.90,318.28 655.47,316.91 657.04,315.56 658.61,314.21 660.18,312.86 661.74,311.52 663.31,310.18 664.88,308.86 666.45,307.53 668.02,306.22 669.58,304.90 671.15,303.60 672.72,302.30 674.29,301.01 675.86,299.72 677.42,298.44 678.99,297.16 680.56,295.90 682.13,294.63 683.70,293.38 685.26,292.13 686.83,290.89 688.40,289.65 689.97,288.42 691.54,287.20 693.10,285.98 694.67,284.77 696.24,283.56 697.81,282.37 699.38,281.18 700.94,279.99 702.51,278.81 704.08,277.64 705.65,276.48 707.22,275.32 708.78,274.17 710.35,273.03 711.92,271.89 713.49,270.76 715.06,269.64 716.62,268.52 718.19,267.41 719.76,266.31 721.33,265.21 722.90,264.12 724.46,263.04 726.03,261.96 727.60,260.89 729.17,259.83 730.74,258.77 732.30,257.72 733.87,256.68 735.44,255.64 737.01,254.61 738.58,253.59 740.14,252.57 741.71,251.56 743.28,250.56 744.85,249.56 746.42,248.57 747.98,247.59 749.55,246.61 751.12,245.65 752.69,244.68 754.26,243.73 755.82,242.78 757.39,241.83 758.96,240.90 760.53,239.97 762.10,239.05 763.66,238.13 765.23,237.22 766.80,236.32 768.37,235.43 769.94,234.54 771.50,233.65 773.07,232.78 774.64,231.91 776.21,231.05 777.78,230.19 779.34,229.34 780.91,228.50 782.48,227.67 784.05,226.84 785.62,226.02 787.18,225.20 788.75,224.39 790.32,223.59 791.89,222.80 793.46,222.01 795.02,221.23 796.59,220.45 798.16,219.68 799.73,218.92 801.30,218.17 802.86,217.42 804.43,216.68 806.00,215.94 807.57,215.21 809.14,214.49 810.70,213.78 812.27,213.07 813.84,212.37 815.41,211.67 816.98,210.98 818.54,210.30 820.11,209.63 821.68,208.96 823.25,208.30 824.82,207.64 826.38,207.00 827.95,206.35 829.52,205.72 831.09,205.09 832.66,204.47 834.22,203.86 835.79,203.25 837.36,202.65 838.93,202.05 840.50,201.46 842.06,200.88 843.63,200.31 845.20,199.74 846.77,199.18 848.34,198.62 849.90,198.08 851.47,197.54 853.04,197.00 854.61,196.47 856.18,195.95 857.74,195.44 859.31,194.93 860.88,194.43 862.45,193.94 864.02,193.45 865.58,192.97 867.15,192.49 868.72,192.02 870.29,191.56 871.86,191.11 873.42,190.66 874.99,190.22 876.56,189.79 878.13,189.36 879.70,188.94 881.26,188.52 882.83,188.12 884.40,187.71 885.97,187.32 887.54,186.93 889.10,186.55 890.67,186.18 892.24,185.81 893.81,185.45 895.38,185.09 896.94,184.75 898.51,184.41 900.08,184.07 901.65,183.74 903.22,183.42 904.78,183.11 906.35,182.80 907.92,182.50 909.49,182.20 911.06,181.92 912.62,181.64 914.19,181.36 915.76,181.09 917.33,180.83 918.90,180.58 920.46,180.33 922.03,180.09 923.60,179.85 925.17,179.63 926.74,179.41 928.30,179.19 929.87,178.98 931.44,178.78 933.01,178.59 934.58,178.40 936.14,178.22 937.71,178.04 939.28,177.88 940.85,177.71 942.42,177.56 943.98,177.41 945.55,177.27 947.12,177.14 948.69,177.01 950.26,176.89 951.82,176.77 953.39,176.66 954.96,176.56 956.53,176.47 958.10,176.38 959.66,176.30 961.23,176.22 962.80,176.15 964.37,176.09 965.94,176.04 967.50,175.99 969.07,175.95 970.64,175.91 972.21,175.88 973.78,175.86 975.34,175.85 976.91,175.84 978.48,175.84 980.05,175.84 981.62,175.85 983.18,175.87 983.34,175.87"/>
<polyline stroke="#482878" points="490.36,496.38 490.36,481.90 491.93,480.14 493.50,478.39 495.07,476.64 496.63,474.89 498.20,473.14 499.77,471.39 501.34,469.65 502.91,467.90 504.47,466.16 506.04,464.43 507.61,462.69 509.18,460.95 510.75,459.22 512.31,457.49 513.88,455.76 515.45,454.04 517.02,452.32 518.59,450.59 520.15,448.88 521.72,447.16 523.29,445.45 524.86,443.73 526.43,442.02 527.99,440.32 529.56,438.61 531.13,436.91 532.70,435.21 534.27,433.52 535.83,431.82 537.40,430.13 538.97,428.44 540.54,426.75 542.11,425.07 543.67,423.39 545.24,421.71 546.81,420.04 548.38,418.36 549.95,416.69 551.51,415.03 553.08,413.36 554.65,411.70 556.22,410.04 557.79,408.39 559.35,406.74 560.92,405.09 562.49,403.44 564.06,401.80 565.63,400.16 567.19,398.52 568.76,396.89 570.33,395.26 571.90,393.63 573.47,392.01 575.03,390.39 576.60,388.77 578.17,387.16 579.74,385.54 581.31,383.94 582.87,382.33 584.44,380.73 586.01,379.14 587.58,377.54 589.15,375.95 590.71,374.37 592.28,372.78 593.85,371.20 595.42,369.63 596.99,368.06 598.55,366.49 600.12,364.92 601.69,363.36 603.26,361.81 604.83,360.25 606.39,358.70 607.96,357.16 609.53,355.62 611.10,354.08 612.67,352.55 614.23,351.02 615.80,349.49 617.37,347.97 618.94,346.46 620.51,344.95 622.07,343.44 623.64,341.94 625.21,340.44 626.78,338.95 628.35,337.46 629.91,335.98 631.48,334.50 633.05,333.02 634.62,331.55 636.19,330.09 637.75,328.63 639.32,327.18 640.89,325.73 642.46,324.29 644.03,322.85 645.59,321.42 647.16,319.99 648.73,318.57 650.30,317.15 651.87,315.74 653.43,314.34 655.00,312.94 656.57,311.55 658.14,310.16 659.71,308.78 661.27,307.40 662.84,306.03 664.41,304.67 665.98,303.31 667.55,301.96 669.11,300.61 670.68,299.27 672.25,297.94 673.82,296.62 675.39,295.30 676.95,293.98 678.52,292.68 680.09,291.38 681.66,290.08 683.23,288.80 684.79,287.52 686.36,286.25 687.93,284.98 689.50,283.72 691.07,282.47 692.63,281.22 694.20,279.99 695.77,278.76 697.34,277.53 698.91,276.32 700.47,275.11 702.04,273.91 703.61,272.72 705.18,271.53 706.75,270.35 708.31,269.18 709.88,268.02 711.45,266.86 713.02,265.71 714.59,264.57 716.15,263.43 717.72,262.31 719.29,261.19 720.86,260.07 722.43,258.97 723.99,257.87 725.56,256.78 727.13,255.70 728.70,254.62 730.27,253.55 731.83,252.49 733.40,251.44 734.97,250.39 736.54,249.35 738.11,248.32 739.67,247.30 741.24,246.28 742.81,245.27 744.38,244.27 745.95,243.27 747.51,242.28 749.08,241.30 750.65,240.33 752.22,239.36 753.79,238.40 755.35,237.45 756.92,236.51 758.49,235.57 760.06,234.64 761.63,233.71 763.19,232.80 764.76,231.89 766.33,230.99 767.90,230.09 769.47,229.20 771.03,228.32 772.60,227.45 774.17,226.58 775.74,225.73 777.31,224.87 778.87,224.03 780.44,223.19 782.01,222.36 783.58,221.54 785.15,220.72 786.71,219.91 788.28,219.11 789.85,218.32 791.42,217.53 792.99,216.75 794.55,215.97 796.12,215.21 797.69,214.45 799.26,213.69 800.83,212.95 802.39,212.21 803.96,211.48 805.53,210.75 807.10,210.04 808.67,209.32 810.23,208.62 811.80,207.92 813.37,207.23 814.94,206.55 816.51,205.88 818.07,205.21 819.64,204.55 821.21,203.89 822.78,203.24 824.35,202.60 825.91,201.97 827.48,201.34 829.05,200.72 830.62,200.11 832.19,199.50 833.75,198.90 835.32,198.31 836.89,197.73 838.46,197.15 840.03,196.57 841.59,196.01 843.16,195.45 844.73,194.90 846.30,194.36 847.87,193.82 849.43,193.29 851.00,192.76 852.57,192.25 854.14,191.74 855.71,191.23 857.27,190.74 858.84,190.25 860.41,189.77 861.98,189.29 863.55,188.82 865.11,188.36 866.68,187.90 868.25,187.45 869.82,187.01 871.39,186.58 872.95,186.15 874.52,185.72 876.09,185.31 877.66,184.90 879.23,184.50 880.79,184.10 882.36,183.72 883.93,183.33 885.50,182.96 887.07,182.59 888.63,182.23 890.20,181.87 891.77,181.53 893.34,181.19 894.91,180.85 896.47,180.52 898.04,180.20 899.61,179.89 901.18,179.58 902.75,179.28 904.31,178.98 905.88,178.69 907.45,178.41 909.02,178.14 910.59,177.87 912.15,177.61 913.72,177.35 915.29,177.10 916.86,176.86 918.43,176.62 919.99,176.40 921.56,176.17 923.13,175.96 924.70,175.75 926.27,175.54 927.83,175.35 929.40,175.16 930.97,174.98 932.54,174.80 934.11,174.63 935.67,174.47 937.24,174.31 938.81,174.16 940.38,174.01 941.95,173.88 943.51,173.74 945.08,173.62 946.65,173.50 948.22,173.39 949.79,173.28 951.35,173.19 952.92,173.09 954.49,173.01 956.06,172.93 957.63,172.85 959.19,172.79 960.76,172.73 962.33,172.67 963.90,172.63 965.47,172.58 967.03,172.55 968.60,172.52 970.17,172.50 971.74,172.48 973.31,172.47 974.87,172.47 975.19,172.47"/>
<polyline stroke="#3e4989" points="482.84,494.95 482.84,485.50 484.40,483.83 485.97,482.16 487.54,480.49 489.11,478.81 490.68,477.14 492.24,475.46 493.81,473.79 495.38,472.11 496.95,470.43 498.52,468.76 500.08,467.08 501.65,465.40 503.22,463.72 504.79,462.04 506.36,460.36 507.92,458.68 509.49,457.01 511.06,455.33 512.63,453.65 514.20,451.97 515.76,450.29 517.33,448.61 518.90,446.93 520.47,445.25 522.04,443.57 523.60,441.90 525.17,440.22 526.74,438.54 528.31,436.87 529.88,435.19 531.44,433.52 533.01,431.84 534.58,430.17 536.15,428.50 537.72,426.82 539.28,425.15 540.85,423.49 542.42,421.82 543.99,420.15 545.56,418.48 547.12,416.82 548.69,415.15 550.26,413.49 551.83,411.83 553.40,410.17 554.96,408.51 556.53,406.86 558.10,405.20 559.67,403.55 561.24,401.90 562.80,400.25 564.37,398.60 565.94,396.96 567.51,395.31 569.08,393.67 570.64,392.03 572.21,390.39 573.78,388.76 575.35,387.13 576.92,385.50 578.48,383.87 580.05,382.24 581.62,380.62 583.19,379.00 584.76,377.38 586.32,375.76 587.89,374.15 589.46,372.54 591.03,370.93 592.60,369.33 594.16,367.72 595.73,366.13 597.30,364.53 598.87,362.94 600.44,361.35 602.00,359.76 603.57,358.18 605.14,356.60 606.71,355.02 608.28,353.45 609.84,351.88 611.41,350.31 612.98,348.75 614.55,347.19 616.12,345.64 617.68,344.09 619.25,342.54 620.82,341.00 622.39,339.46 623.96,337.93 625.52,336.40 627.09,334.87 628.66,333.35 630.23,331.84 631.80,330.32 633.36,328.82 634.93,327.32 636.50,325.82 638.07,324.33 639.64,322.84 641.20,321.36 642.77,319.88 644.34,318.41 645.91,316.95 647.48,315.49 649.04,314.03 650.61,312.58 652.18,311.14 653.75,309.70 655.32,308.27 656.88,306.84 658.45,305.42 660.02,304.01 661.59,302.60 663.16,301.20 664.72,299.80 666.29,298.41 667.86,297.03 669.43,295.66 671.00,294.29 672.56,292.92 674.13,291.57 675.70,290.22 677.27,288.88 678.84,287.54 680.40,286.21 681.97,284.89 683.54,283.58 685.11,282.27 686.68,280.97 688.24,279.68 689.81,278.40 691.38,277.12 692.95,275.85 694.52,274.59 696.08,273.34 697.65,272.09 699.22,270.86 700.79,269.63 702.36,268.41 703.92,267.19 705.49,265.99 707.06,264.79 708.63,263.61 710.20,262.42 711.76,261.25 713.33,260.09 714.90,258.93 716.47,257.78 718.04,256.64 719.60,255.51 721.17,254.39 722.74,253.27 724.31,252.16 725.88,251.06 727.44,249.97 729.01,248.89 730.58,247.81 732.15,246.74 733.72,245.68 735.28,244.63 736.85,243.58 738.42,242.54 739.99,241.51 741.56,240.49 743.12,239.48 744.69,238.47 746.26,237.48 747.83,236.49 749.40,235.50 750.96,234.53 752.53,233.56 754.10,232.60 755.67,231.65 757.24,230.71 758.80,229.77 760.37,228.84 761.94,227.92 763.51,227.01 765.08,226.10 766.64,225.20 768.21,224.31 769.78,223.43 771.35,222.56 772.92,221.69 774.48,220.83 776.05,219.98 777.62,219.13 779.19,218.29 780.76,217.46 782.32,216.64 783.89,215.83 785.46,215.02 787.03,214.22 788.60,213.43 790.16,212.64 791.73,211.87 793.30,211.10 794.87,210.33 796.44,209.58 798.00,208.83 799.57,208.09 801.14,207.36 802.71,206.63 804.28,205.91 805.84,205.20 807.41,204.50 808.98,203.80 810.55,203.12 812.12,202.43 813.68,201.76 815.25,201.09 816.82,200.43 818.39,199.78 819.96,199.14 821.52,198.50 823.09,197.87 824.66,197.24 826.23,196.63 827.80,196.02 829.36,195.42 830.93,194.82 832.50,194.23 834.07,193.65 835.64,193.08 837.20,192.51 838.77,191.95 840.34,191.40 841.91,190.86 843.48,190.32 845.04,189.79 846.61,189.26 848.18,188.74 849.75,188.23 851.32,187.73 852.88,187.24 854.45,186.75 856.02,186.26 857.59,185.79 859.16,185.32 860.72,184.86 862.29,184.41 863.86,183.96 865.43,183.52 867.00,183.08 868.56,182.66 870.13,182.24 871.70,181.82 873.27,181.42 874.84,181.02 876.40,180.63 877.97,180.24 879.54,179.86 881.11,179.49 882.68,179.12 884.24,178.76 885.81,178.41 887.38,178.07 888.95,177.73 890.52,177.40 892.08,177.07 893.65,176.75 895.22,176.44 896.79,176.13 898.36,175.84 899.92,175.54 901.49,175.26 903.06,174.98 904.63,174.71 906.20,174.44 907.76,174.18 909.33,173.93 910.90,173.68 912.47,173.44 914.04,173.21 915.60,172.99 917.17,172.77 918.74,172.55 920.31,172.35 921.88,172.15 923.44,171.95 925.01,171.76 926.58,171.58 928.15,171.41 929.72,171.24 931.28,171.08 932.85,170.92 934.42,170.77 935.99,170.63 937.56,170.49 939.12,170.36 940.69,170.24 942.26,170.12 943.83,170.01 945.40,169.91 946.96,169.81 948.53,169.72 950.10,169.63 951.67,169.55 953.24,169.48 954.80,169.41 956.37,169.35 957.94,169.29 959.51,169.24 961.08,169.20 962.64,169.16 964.21,169.13 965.78,169.11 967.35,169.09 968.92,169.08 970.48,169.07 972.05,169.07"/>
<polyline stroke="#31688e" points="476.56,493.75 476.56,486.93 478.13,485.37 479.70,483.80 481.27,482.23 482.84,480.65 484.40,479.08 485.97,477.50 487.54,475.91 489.11,474.32 490.68,472.73 492.24,471.13 493.81,469.54 495.38,467.94 496.95,466.33 498.52,464.72 500.08,463.11 501.65,461.50 503.22,459.89 504.79,458.27 506.36,456.65 507.92,455.03 509.49,453.40 511.06,451.77 512.63,450.15 514.20,448.51 515.76,446.88 517.33,445.25 518.90,443.61 520.47,441.97 522.04,440.33 523.60,438.69 525.17,437.05 526.74,435.40 528.31,433.76 529.88,432.11 531.44,430.46 533.01,428.81 534.58,427.16 536.15,425.51 537.72,423.86 539.28,422.21 540.85,420.55 542.42,418.90 543.99,417.24 545.56,415.59 547.12,413.93 548.69,412.28 550.26,410.62 551.83,408.97 553.40,407.31 554.96,405.66 556.53,404.00 558.10,402.35 559.67,400.69 561.24,399.04 562.80,397.39 564.37,395.73 565.94,394.08 567.51,392.43 569.08,390.78 570.64,389.13 572.21,387.48 573.78,385.84 575.35,384.19 576.92,382.54 578.48,380.90 580.05,379.26 581.62,377.62 583.19,375.98 584.76,374.34 586.32,372.71 587.89,371.07 589.46,369.44 591.03,367.81 592.60,366.19 594.16,364.56 595.73,362.94 597.30,361.32 598.87,359.70 600.44,358.08 602.00,356.47 603.57,354.86 605.14,353.25 606.71,351.65 608.28,350.04 609.84,348.45 611.41,346.85 612.98,345.26 614.55,343.67 616.12,342.08 617.68,340.50 619.25,338.93 620.82,337.35 622.39,335.78 623.96,334.21 625.52,332.65 627.09,331.09 628.66,329.54 630.23,327.99 631.80,326.45 633.36,324.91 634.93,323.37 636.50,321.84 638.07,320.31 639.64,318.79 641.20,317.28 642.77,315.77 644.34,314.26 645.91,312.76 647.48,311.26 649.04,309.78 650.61,308.29 652.18,306.81 653.75,305.34 655.32,303.88 656.88,302.42 658.45,300.96 660.02,299.51 661.59,298.07 663.16,296.64 664.72,295.21 666.29,293.79 667.86,292.37 669.43,290.97 671.00,289.56 672.56,288.17 674.13,286.78 675.70,285.40 677.27,284.03 678.84,282.67 680.40,281.31 681.97,279.96 683.54,278.62 685.11,277.28 686.68,275.95 688.24,274.64 689.81,273.33 691.38,272.02 692.95,270.73 694.52,269.44 696.08,268.17 697.65,266.90 699.22,265.64 700.79,264.39 702.36,263.15 703.92,261.91 705.49,260.69 707.06,259.47 708.63,258.26 710.20,257.07 711.76,255.88 713.33,254.70 714.90,253.52 716.47,252.36 718.04,251.21 719.60,250.06 721.17,248.92 722.74,247.79 724.31,246.67 725.88,245.56 727.44,244.46 729.01,243.36 730.58,242.28 732.15,241.20 733.72,240.13 735.28,239.07 736.85,238.02 738.42,236.97 739.99,235.94 741.56,234.91 743.12,233.89 744.69,232.88 746.26,231.88 747.83,230.88 749.40,229.90 750.96,228.92 752.53,227.95 754.10,226.99 755.67,226.04 757.24,225.09 758.80,224.16 760.37,223.23 761.94,222.31 763.51,221.40 765.08,220.50 766.64,219.60 768.21,218.71 769.78,217.83 771.35,216.96 772.92,216.10 774.48,215.24 776.05,214.40 777.62,213.56 779.19,212.73 780.76,211.90 782.32,211.09 783.89,210.28 785.46,209.48 787.03,208.69 788.60,207.91 790.16,207.13 791.73,206.36 793.30,205.60 794.87,204.85 796.44,204.11 798.00,203.37 799.57,202.64 801.14,201.92 802.71,201.20 804.28,200.50 805.84,199.80 807.41,199.11 808.98,198.43 810.55,197.75 812.12,197.08 813.68,196.42 815.25,195.77 816.82,195.12 818.39,194.49 819.96,193.86 821.52,193.23 823.09,192.62 824.66,192.01 826.23,191.41 827.80,190.82 829.36,190.23 830.93,189.65 832.50,189.08 834.07,188.52 835.64,187.96 837.20,187.41 838.77,186.87 840.34,186.34 841.91,185.81 843.48,185.29 845.04,184.78 846.61,184.28 848.18,183.78 849.75,183.29 851.32,182.80 852.88,182.33 854.45,181.86 856.02,181.39 857.59,180.94 859.16,180.49 860.72,180.05 862.29,179.62 863.86,179.19 865.43,178.77 867.00,178.36 868.56,177.95 870.13,177.55 871.70,177.16 873.27,176.77 874.84,176.39 876.40,176.02 877.97,175.66 879.54,175.30 881.11,174.95 882.68,174.61 884.24,174.27 885.81,173.94 887.38,173.61 888.95,173.30 890.52,172.99 892.08,172.68 893.65,172.39 895.22,172.09 896.79,171.81 898.36,171.53 899.92,171.26 901.49,171.00 903.06,170.74 904.63,170.49 906.20,170.25 907.76,170.01 909.33,169.78 910.90,169.55 912.47,169.34 914.04,169.12 915.60,168.92 917.17,168.72 918.74,168.53 920.31,168.34 921.88,168.16 923.44,167.99 925.01,167.82 926.58,167.66 928.15,167.51 929.72,167.36 931.28,167.22 932.85,167.08 934.42,166.95 935.99,166.83 937.56,166.71 939.12,166.60 940.69,166.49 942.26,166.40 943.83,166.30 945.40,166.22 946.96,166.14 948.53,166.06 950.10,165.99 951.67,165.93 953.24,165.88 954.80,165.83 956.37,165.78 957.94,165.74 959.51,165.71 961.08,165.69 962.64,165.67"/>
<polyline stroke="#26828e" points="470.29,492.56 470.29,487.45 471.86,486.02 473.43,484.58 475.00,483.13 476.56,481.68 478.13,480.22 479.70,478.76 481.27,477.28 482.84,475.81 484.40,474.32 485.97,472.83 487.54,471.33 489.11,469.83 490.68,468.32 492.24,466.81 493.81,465.29 495.38,463.76 496.95,462.23 498.52,460.69 500.08,459.15 501.65,457.60 503.22,456.05 504.79,454.50 506.36,452.93 507.92,451.37 509.49,449.80 511.06,448.22 512.63,446.64 514.20,445.06 515.76,443.47 517.33,441.88 518.90,440.29 520.47,438.69 522.04,437.09 523.60,435.48 525.17,433.87 526.74,432.26 528.31,430.64 529.88,429.03 531.44,427.40 533.01,425.78 534.58,424.15 536.15,422.52 537.72,420.89 539.28,419.26 540.85,417.62 542.42,415.98 543.99,414.34 545.56,412.70 547.12,411.05 548.69,409.40 550.26,407.76 551.83,406.11 553.40,404.46 554.96,402.80 556.53,401.15 558.10,399.49 559.67,397.84 561.24,396.18 562.80,394.52 564.37,392.87 565.94,391.21 567.51,389.55 569.08,387.89 570.64,386.23 572.21,384.57 573.78,382.91 575.35,381.25 576.92,379.59 578.48,377.94 580.05,376.28 581.62,374.62 583.19,372.96 584.76,371.31 586.32,369.65 587.89,368.00 589.46,366.35 591.03,364.69 592.60,363.04 594.16,361.40 595.73,359.75 597.30,358.10 598.87,356.46 600.44,354.82 602.00,353.18 603.57,351.54 605.14,349.90 606.71,348.27 608.28,346.64 609.84,345.01 611.41,343.39 612.98,341.77 614.55,340.15 616.12,338.53 617.68,336.92 619.25,335.31 620.82,333.70 622.39,332.10 623.96,330.50 625.52,328.91 627.09,327.32 628.66,325.73 630.23,324.15 631.80,322.57 633.36,320.99 634.93,319.42 636.50,317.86 638.07,316.30 639.64,314.74 641.20,313.19 642.77,311.65 644.34,310.11 645.91,308.57 647.48,307.04 649.04,305.52 650.61,304.00 652.18,302.49 653.75,300.98 655.32,299.48 656.88,297.99 658.45,296.50 660.02,295.02 661.59,293.55 663.16,292.08 664.72,290.62 666.29,289.16 667.86,287.72 669.43,286.28 671.00,284.84 672.56,283.42 674.13,282.00 675.70,280.59 677.27,279.19 678.84,277.79 680.40,276.40 681.97,275.02 683.54,273.65 685.11,272.29 686.68,270.94 688.24,269.59 689.81,268.25 691.38,266.93 692.95,265.61 694.52,264.30 696.08,262.99 697.65,261.70 699.22,260.42 700.79,259.15 702.36,257.88 703.92,256.63 705.49,255.39 707.06,254.15 708.63,252.92 710.20,251.71 711.76,250.50 713.33,249.30 714.90,248.12 716.47,246.94 718.04,245.77 719.60,244.61 721.17,243.46 722.74,242.31 724.31,241.18 725.88,240.06 727.44,238.94 729.01,237.84 730.58,236.74 732.15,235.66 733.72,234.58 735.28,233.51 736.85,232.45 738.42,231.40 739.99,230.36 741.56,229.32 743.12,228.30 744.69,227.29 746.26,226.28 747.83,225.28 749.40,224.29 750.96,223.31 752.53,222.34 754.10,221.38 755.67,220.43 757.24,219.48 758.80,218.55 760.37,217.62 761.94,216.70 763.51,215.79 765.08,214.89 766.64,214.00 768.21,213.11 769.78,212.24 771.35,211.37 772.92,210.51 774.48,209.66 776.05,208.82 777.62,207.99 779.19,207.16 780.76,206.34 782.32,205.53 783.89,204.73 785.46,203.94 787.03,203.16 788.60,202.38 790.16,201.62 791.73,200.86 793.30,200.11 794.87,199.37 796.44,198.63 798.00,197.91 799.57,197.19 801.14,196.48 802.71,195.77 804.28,195.08 805.84,194.39 807.41,193.72 808.98,193.05 810.55,192.38 812.12,191.73 813.68,191.08 815.25,190.45 816.82,189.81 818.39,189.19 819.96,188.58 821.52,187.97 823.09,187.37 824.66,186.78 826.23,186.19 827.80,185.62 829.36,185.05 830.93,184.49 832.50,183.93 834.07,183.39 835.64,182.85 837.20,182.32 838.77,181.79 840.34,181.28 841.91,180.77 843.48,180.27 845.04,179.77 846.61,179.29 848.18,178.81 849.75,178.34 851.32,177.87 852.88,177.42 854.45,176.97 856.02,176.52 857.59,176.09 859.16,175.66 860.72,175.24 862.29,174.83 863.86,174.42 865.43,174.02 867.00,173.63 868.56,173.24 870.13,172.86 871.70,172.49 873.27,172.13 874.84,171.77 876.40,171.42 877.97,171.08 879.54,170.74 881.11,170.41 882.68,170.09 884.24,169.77 885.81,169.46 887.38,169.16 888.95,168.87 890.52,168.58 892.08,168.29 893.65,168.02 895.22,167.75 896.79,167.49 898.36,167.23 899.92,166.98 901.49,166.74 903.06,166.51 904.63,166.28 906.20,166.05 907.76,165.84 909.33,165.63 910.90,165.42 912.47,165.23 914.04,165.04 915.60,164.85 917.17,164.67 918.74,164.50 920.31,164.34 921.88,164.18 923.44,164.02 925.01,163.88 926.58,163.74 928.15,163.60 929.72,163.48 931.28,163.35 932.85,163.24 934.42,163.13 935.99,163.02 937.56,162.93 939.12,162.84 940.69,162.75 942.26,162.67 943.83,162.60 945.40,162.53 946.96,162.47 948.53,162.41 950.10,162.36 951.67,162.32 953.24,162.28 954.80,162.24 956.37,162.22 957.94,162.20 959.51,162.18 960.76,162.17"/>
<polyline stroke="#1f9e89" points="465.59,491.71 465.59,485.65 467.16,484.36 468.72,483.07 470.29,481.76 471.86,480.44 473.43,479.12 475.00,477.78 476.56,476.43 478.13,475.08 479.70,473.71 481.27,472.34 482.84,470.96 484.40,469.56 485.97,468.16 487.54,466.75 489.11,465.34 490.68,463.91 492.24,462.48 493.81,461.03 495.38,459.58 496.95,458.13 498.52,456.66 500.08,455.19 501.65,453.71 503.22,452.22 504.79,450.72 506.36,449.22 507.92,447.71 509.49,446.20 511.06,444.67 512.63,443.14 514.20,441.61 515.76,440.07 517.33,438.52 518.90,436.97 520.47,435.41 522.04,433.84 523.60,432.28 525.17,430.70 526.74,429.12 528.31,427.53 529.88,425.94 531.44,424.35 533.01,422.75 534.58,421.15 536.15,419.54 537.72,417.92 539.28,416.31 540.85,414.69 542.42,413.06 543.99,411.43 545.56,409.80 547.12,408.17 548.69,406.53 550.26,404.89 551.83,403.24 553.40,401.60 554.96,399.95 556.53,398.29 558.10,396.64 559.67,394.98 561.24,393.32 562.80,391.66 564.37,390.00 565.94,388.33 567.51,386.67 569.08,385.00 570.64,383.33 572.21,381.66 573.78,379.99 575.35,378.32 576.92,376.64 578.48,374.97 580.05,373.30 581.62,371.62 583.19,369.95 584.76,368.27 586.32,366.60 587.89,364.92 589.46,363.25 591.03,361.58 592.60,359.90 594.16,358.23 595.73,356.56 597.30,354.89 598.87,353.22 600.44,351.55 602.00,349.89 603.57,348.22 605.14,346.56 606.71,344.90 608.28,343.24 609.84,341.58 611.41,339.93 612.98,338.28 614.55,336.63 616.12,334.98 617.68,333.34 619.25,331.69 620.82,330.06 622.39,328.42 623.96,326.79 625.52,325.16 627.09,323.54 628.66,321.92 630.23,320.30 631.80,318.69 633.36,317.08 634.93,315.48 636.50,313.88 638.07,312.29 639.64,310.70 641.20,309.11 642.77,307.53 644.34,305.96 645.91,304.39 647.48,302.82 649.04,301.27 650.61,299.71 652.18,298.17 653.75,296.63 655.32,295.09 656.88,293.57 658.45,292.04 660.02,290.53 661.59,289.02 663.16,287.52 664.72,286.03 666.29,284.54 667.86,283.06 669.43,281.59 671.00,280.12 672.56,278.66 674.13,277.21 675.70,275.77 677.27,274.34 678.84,272.91 680.40,271.50 681.97,270.09 683.54,268.69 685.11,267.30 686.68,265.92 688.24,264.55 689.81,263.18 691.38,261.83 692.95,260.48 694.52,259.15 696.08,257.82 697.65,256.51 699.22,255.20 700.79,253.91 702.36,252.62 703.92,251.35 705.49,250.08 707.06,248.83 708.63,247.58 710.20,246.35 711.76,245.13 713.33,243.91 714.90,242.71 716.47,241.51 718.04,240.33 719.60,239.15 721.17,237.99 722.74,236.84 724.31,235.69 725.88,234.56 727.44,233.43 729.01,232.32 730.58,231.21 732.15,230.11 733.72,229.03 735.28,227.95 736.85,226.88 738.42,225.83 739.99,224.78 741.56,223.74 743.12,222.71 744.69,221.69 746.26,220.68 747.83,219.68 749.40,218.69 750.96,217.71 752.53,216.73 754.10,215.77 755.67,214.82 757.24,213.87 758.80,212.94 760.37,212.01 761.94,211.09 763.51,210.18 765.08,209.28 766.64,208.39 768.21,207.51 769.78,206.64 771.35,205.78 772.92,204.92 774.48,204.08 776.05,203.24 777.62,202.41 779.19,201.59 780.76,200.78 782.32,199.98 783.89,199.19 785.46,198.40 787.03,197.63 788.60,196.86 790.16,196.10 791.73,195.35 793.30,194.61 794.87,193.88 796.44,193.16 798.00,192.44 799.57,191.73 801.14,191.04 802.71,190.35 804.28,189.66 805.84,188.99 807.41,188.32 808.98,187.67 810.55,187.02 812.12,186.38 813.68,185.75 815.25,185.12 816.82,184.51 818.39,183.90 819.96,183.30 821.52,182.71 823.09,182.12 824.66,181.55 826.23,180.98 827.80,180.42 829.36,179.86 830.93,179.32 832.50,178.78 834.07,178.26 835.64,177.73 837.20,177.22 838.77,176.72 840.34,176.22 841.91,175.73 843.48,175.24 845.04,174.77 846.61,174.30 848.18,173.84 849.75,173.39 851.32,172.94 852.88,172.51 854.45,172.08 856.02,171.65 857.59,171.24 859.16,170.83 860.72,170.43 862.29,170.04 863.86,169.65 865.43,169.27 867.00,168.90 868.56,168.54 870.13,168.18 871.70,167.83 873.27,167.48 874.84,167.15 876.40,166.82 877.97,166.50 879.54,166.18 881.11,165.87 882.68,165.57 884.24,165.28 885.81,164.99 887.38,164.71 888.95,164.43 890.52,164.17 892.08,163.91 893.65,163.65 895.22,163.41 896.79,163.16 898.36,162.93 899.92,162.70 901.49,162.48 903.06,162.27 904.63,162.06 906.20,161.86 907.76,161.66 909.33,161.48 910.90,161.29 912.47,161.12 914.04,160.95 915.60,160.78 917.17,160.63 918.74,160.48 920.31,160.33 921.88,160.19 923.44,160.06 925.01,159.94 926.58,159.82 928.15,159.70 929.72,159.59 931.28,159.49 932.85,159.40 934.42,159.31 935.99,159.22 936.30,159.21"/>
<polyline stroke="#35b779" points="440.50,490.49 442.07,490.48 443.64,490.45 445.20,490.41 446.77,490.35 448.34,490.27 449.91,490.18 451.48,490.08 453.04,489.96 454.61,489.84 456.18,489.70 457.75,489.45 459.32,489.03 460.88,488.46 462.45,487.77 464.02,486.98 465.59,486.11 467.16,485.18 468.72,484.21 470.29,483.23 471.86,482.25 473.43,481.25 475.00,480.17 476.56,479.03 478.13,477.82 479.70,476.54 481.27,475.20 482.84,473.80 484.40,472.33 485.97,470.81 487.54,469.22 489.11,467.57 490.68,465.86 492.24,464.10 493.81,462.27 495.38,460.40 496.95,458.46 498.52,456.47 500.08,454.43 501.65,452.34 503.22,451.74 504.79,450.18 506.36,448.61 507.92,447.02 509.49,445.41 511.06,443.79 512.63,442.15 514.20,440.50 515.76,438.83 517.33,437.14 518.90,435.44 520.47,433.73 522.04,432.01 523.60,430.28 525.17,428.53 526.74,426.77 528.31,425.01 529.88,423.23 531.44,421.44 533.01,419.65 534.58,417.85 536.15,416.04 537.72,414.22 539.28,412.40 540.85,410.57 542.42,408.74 543.99,406.90 545.56,405.06 547.12,403.21 548.69,401.35 550.26,399.50 551.83,397.64 553.40,395.77 554.96,393.90 556.53,392.03 558.10,390.15 559.67,388.28 561.24,386.40 562.80,384.51 564.37,382.63 565.94,380.74 567.51,378.85 569.08,376.95 570.64,375.06 572.21,373.17 573.78,371.27 575.35,369.37 576.92,367.47 578.48,365.58 580.05,363.68 581.62,361.78 583.19,359.88 584.76,357.98 586.32,356.08 587.89,354.19 589.46,352.29 591.03,350.40 592.60,348.50 594.16,346.61 595.73,344.72 597.30,342.83 598.87,340.95 600.44,339.06 602.00,337.18 603.57,335.30 605.14,333.43 606.71,331.56 608.28,329.69 609.84,327.82 611.41,325.96 612.98,324.11 614.55,322.25 616.12,320.41 617.68,318.56 619.25,316.72 620.82,314.89 622.39,313.06 623.96,311.24 625.52,309.42 627.09,307.61 628.66,305.81 630.23,304.01 631.80,302.22 633.36,300.44 634.93,298.66 636.50,296.89 638.07,295.12 639.64,293.37 641.20,291.62 642.77,289.88 644.34,288.15 645.91,286.43 647.48,284.71 649.04,283.01 650.61,281.31 652.18,279.63 653.75,277.95 655.32,276.28 656.88,274.62 658.45,272.97 660.02,271.34 661.59,269.71 663.16,268.09 664.72,266.49 666.29,264.89 667.86,263.31 669.43,261.74 671.00,260.17 672.56,258.62 674.13,257.08 675.70,255.55 677.27,254.02 678.84,252.51 680.40,251.01 681.97,249.52 683.54,248.04 685.11,246.58 686.68,245.12 688.24,243.67 689.81,242.23 691.38,240.81 692.95,239.39 694.52,237.99 696.08,236.59 697.65,235.21 699.22,233.83 700.79,232.47 702.36,231.12 703.92,229.78 705.49,228.44 707.06,227.12 708.63,225.81 710.20,224.51 711.76,223.22 713.33,221.94 714.90,220.67 716.47,219.42 718.04,218.17 719.60,216.93 721.17,215.71 722.74,214.49 724.31,213.28 725.88,212.09 727.44,210.90 729.01,209.73 730.58,208.57 732.15,207.41 733.72,206.27 735.28,205.14 736.85,204.02 738.42,202.91 739.99,201.81 741.56,200.72 743.12,199.64 744.69,198.57 746.26,197.51 747.83,196.46 749.40,195.42 750.96,194.40 752.53,193.38 754.10,192.37 755.67,191.38 757.24,190.39 758.80,189.42 760.37,188.45 761.94,187.50 763.51,186.56 765.08,185.62 766.64,184.70 768.21,183.79 769.78,182.89 771.35,182.00 772.92,181.12 774.48,180.25 776.05,179.39 777.62,178.54 779.19,177.70 780.76,176.87 782.32,176.05 783.89,175.25 785.46,174.45 787.03,173.66 788.60,172.89 790.16,172.12 791.73,171.37 793.30,170.62 794.87,169.89 796.44,169.16 798.00,168.45 799.57,167.75 801.14,167.06 802.71,166.37 804.28,165.70 805.84,165.04 807.41,164.39 808.98,163.75 810.55,163.12 812.12,162.50 813.68,161.89 815.25,161.30 816.82,160.71 818.39,160.13 819.96,159.56 821.52,159.01 823.09,158.46 824.66,157.93 826.23,157.40 827.80,156.89 829.36,156.38 830.93,155.89 832.50,155.40 834.07,154.93 835.64,154.47 837.20,154.02 838.77,153.57 840.34,153.14 841.91,152.72 843.48,152.31 845.04,151.91 846.61,151.52 848.18,151.14 849.75,150.77 851.32,150.41 852.88,150.06 854.45,149.73 856.02,149.40 857.59,149.08 859.16,148.78 860.72,148.48 862.29,148.19 863.86,147.92 865.43,147.65 867.00,147.40 868.56,147.16 870.13,146.92 871.70,146.70 873.27,146.48 874.84,146.28 876.40,146.09 877.97,145.91 879.54,145.74 881.11,145.58 882.68,145.43 884.24,145.28 885.81,145.15 887.38,145.04 888.95,144.93 890.52,144.83 892.08,144.74 893.65,144.66 895.22,144.59 896.79,144.54 898.36,144.49 899.92,144.45 901.49,144.43 903.06,144.41 904.63,144.41 906.20,144.41 907.76,144.43 909.33,144.45 910.90,144.49 912.15,144.52"/>
<polyline stroke="#440154" points="440.50,490.10 456.18,490.10"/>
</g>
<path d="M440.3 80.5V544.9H1029V80.5" stroke-width="5.2" stroke="#666666" fill="none" stroke-linejoin="miter" stroke-linecap="square"/>
<path d="M440.3 80.5H1029" stroke-width="4" stroke="#2a2a2a" fill="none" stroke-linecap="square"/>
<g stroke="#0a0a0a" fill="none">
<line x1="597.3" y1="544.9" x2="597.3" y2="534.5" stroke-width="3.2"/>
<line x1="754.1" y1="544.9" x2="754.1" y2="534.5" stroke-width="3.2"/>
<line x1="910.9" y1="544.9" x2="910.9" y2="534.5" stroke-width="3.2"/>
<line x1="440.3" y1="505.6" x2="450.7" y2="505.6" stroke-width="3.2"/>
<line x1="440.3" y1="428.1" x2="450.7" y2="428.1" stroke-width="3.2"/>
<line x1="440.3" y1="350.6" x2="450.7" y2="350.6" stroke-width="3.2"/>
<line x1="440.3" y1="273.1" x2="450.7" y2="273.1" stroke-width="3.2"/>
<line x1="440.3" y1="195.6" x2="450.7" y2="195.6" stroke-width="3.2"/>
<line x1="440.3" y1="118.1" x2="450.7" y2="118.1" stroke-width="3.2"/>
</g>
<text class="itk" text-anchor="middle" transform="translate(440.5 597.0) scale(0.945 1.0)">0</text>
<text class="itk" text-anchor="middle" transform="translate(597.3 597.0) scale(0.945 1.0)">1</text>
<text class="itk" text-anchor="middle" transform="translate(754.1 597.0) scale(0.945 1.0)">2</text>
<text class="itk" text-anchor="middle" transform="translate(910.9 597.0) scale(0.945 1.0)">3</text>
<text class="itk" text-anchor="end" transform="translate(430.6 522.2) scale(0.945 1.0)">4.6</text>
<text class="itk" text-anchor="end" transform="translate(430.6 444.7) scale(0.945 1.0)">4.8</text>
<text class="itk" text-anchor="end" transform="translate(430.6 367.2) scale(0.945 1.0)">5.0</text>
<text class="itk" text-anchor="end" transform="translate(430.6 289.7) scale(0.945 1.0)">5.2</text>
<text class="itk" text-anchor="end" transform="translate(430.6 212.2) scale(0.945 1.0)">5.4</text>
<text class="itk" text-anchor="end" transform="translate(430.6 134.7) scale(0.945 1.0)">5.6</text>
<text class="ial" text-anchor="middle" transform="translate(734.0 660.8) scale(0.977 1.0)">Depth (μm)</text>
<text class="ial" text-anchor="middle" transform="translate(347.3 312.0) rotate(-90) scale(0.977 1.0)">Corrosion rate (μm/a)</text>
</g>
<polygon points="989.2,158.6 1079.0,158.6 1079.0,150.0 1096.0,166.0 1079.0,182.0 1079.0,173.4 989.2,173.4" fill="#ffff00" stroke="#ff0000" stroke-width="2.5" stroke-linejoin="miter"/>
<polygon points="665.4,492.1 755.2,492.1 755.2,484.4 772.2,499.9 755.2,515.4 755.2,507.7 665.4,507.7" fill="#ffff00" stroke="#ff0000" stroke-width="2.5" stroke-linejoin="miter"/>
<text class="rt" text-anchor="start" transform="translate(1116.3 193.8) scale(0.985 1.0)">1:3</text>
<text class="rt" text-anchor="start" transform="translate(782.0 527.8) scale(0.985 1.0)">1:1</text>
</g>
</svg></body></html>
